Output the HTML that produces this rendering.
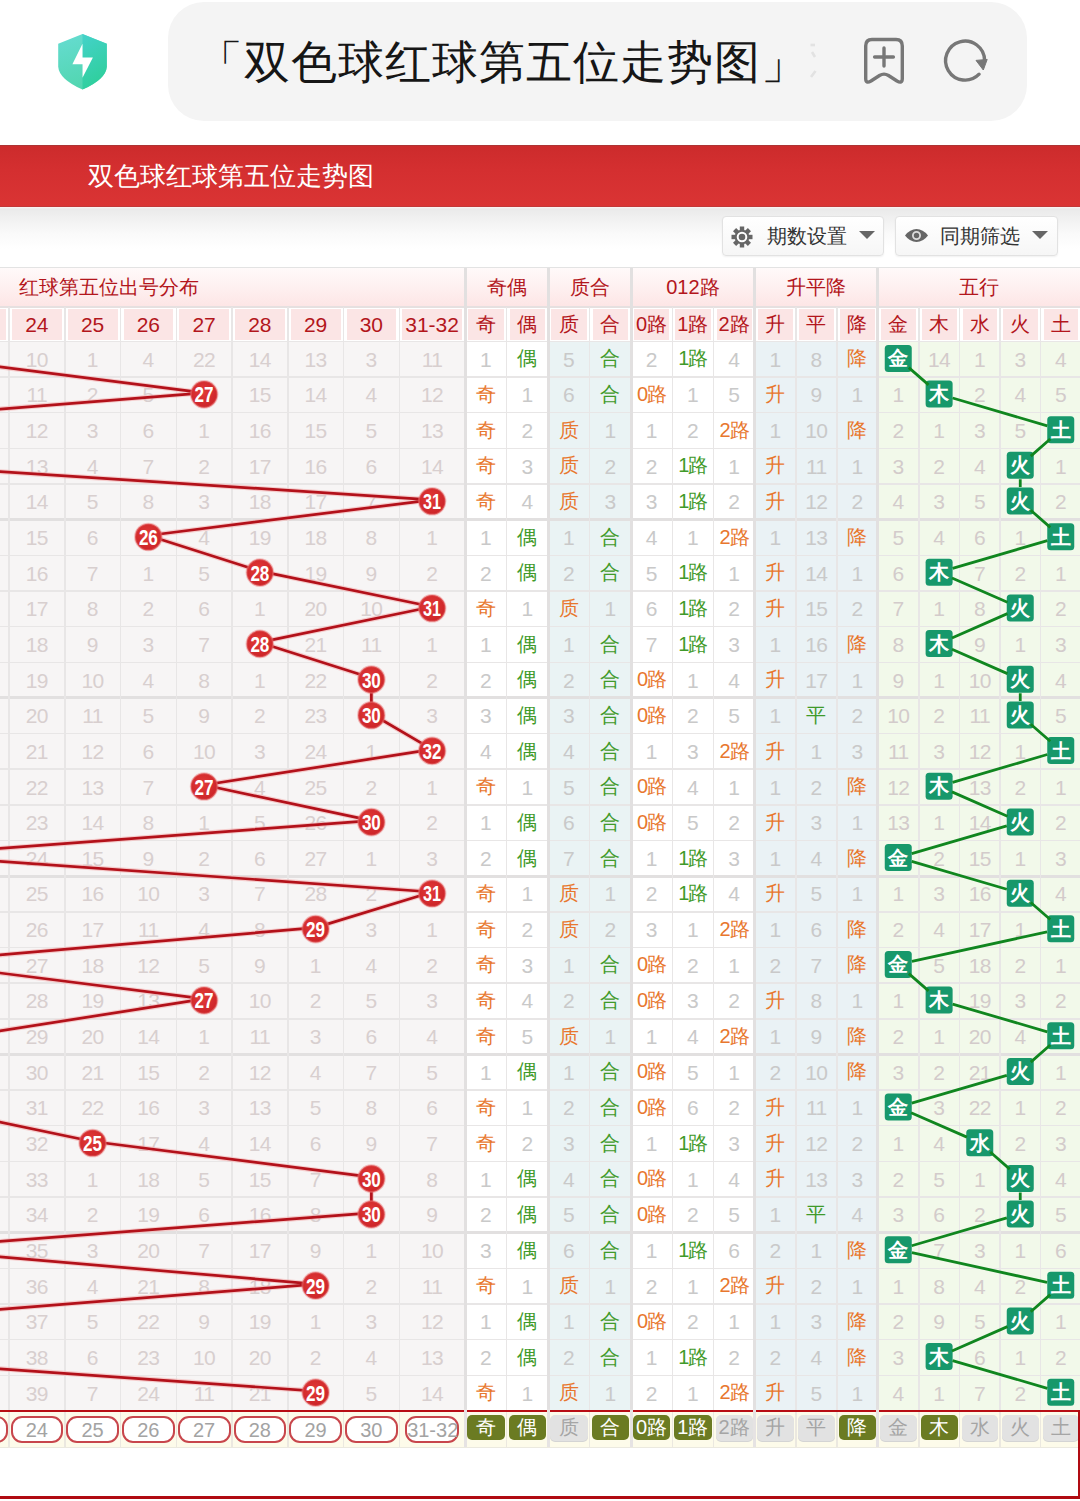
<!DOCTYPE html><html><head><meta charset="utf-8"><style>
*{margin:0;padding:0;box-sizing:border-box}
html,body{width:1080px;height:1501px;overflow:hidden;background:#fff;font-family:"Liberation Sans", sans-serif}
.a{position:absolute}
.t{position:absolute;text-align:center;white-space:nowrap}
</style></head><body>
<div class="a" style="left:168px;top:2px;width:859px;height:119px;border-radius:36px;background:#f4f4f4"></div>
<svg class="a" style="left:56px;top:32px" width="54" height="60" viewBox="0 0 54 60">
<defs><linearGradient id="sg" x1="0" y1="0" x2="0.3" y2="1"><stop offset="0" stop-color="#66dcd2"/><stop offset="1" stop-color="#52d6b0"/></linearGradient>
<linearGradient id="sg2" x1="0" y1="0" x2="0.3" y2="1"><stop offset="0" stop-color="#44d2ca"/><stop offset="1" stop-color="#2fcf9c"/></linearGradient></defs>
<path d="M26.5 2 L50.8 11.8 L50.8 34.7 Q50 47 26.5 57.6 Q3 47 2.2 34.7 L2.2 11.8 Z" fill="url(#sg)"/>
<path d="M26.5 2 L50.8 11.8 L50.8 34.7 Q50 47 26.5 57.6 Z" fill="url(#sg2)"/>
<path d="M26.5 11.75 L26.5 25.6 L36.9 25.6 L26.5 45.8 L26.5 32.2 L16.4 32.2 Z" fill="#fff"/>
</svg>
<div class="t" style="left:197px;top:34px;height:56px;line-height:56px;font-size:46px;font-weight:500;color:#161616;text-align:left;letter-spacing:1px">「双色球红球第五位走势图」</div>
<svg class="a" style="left:800px;top:35px" width="30" height="50" viewBox="0 0 30 50"><g stroke="#e2e2e2" stroke-width="2.6" fill="none"><path d="M10.5 10 L15 10"/><path d="M12 17 L15 22"/><path d="M15.5 36 L11 42"/></g></svg>
<svg class="a" style="left:860px;top:34px" width="48" height="52" viewBox="0 0 48 52">
<path d="M5.7 12 Q5.7 5.5 12 5.5 L36 5.5 Q42.3 5.5 42.3 12 L42.3 44.5 Q42.3 50 37 47 L28.5 41.5 Q24 38.7 19.5 41.5 L11 47 Q5.7 50 5.7 44.5 Z" fill="none" stroke="#777" stroke-width="3.4" stroke-linejoin="round"/>
<path d="M24 14 L24 32 M14.6 23 L33.4 23" stroke="#777" stroke-width="3.4" stroke-linecap="round"/>
</svg>
<svg class="a" style="left:940px;top:36px" width="52" height="50" viewBox="0 0 52 50">
<path d="M39.09 38.19 A19.5 19.5 0 1 1 44.6 24.4" fill="none" stroke="#777" stroke-width="3.4" stroke-linecap="round"/>
<path d="M36 24.4 L47.2 23.4 L43.3 34 Z" fill="#777" stroke="#777" stroke-width="1" stroke-linejoin="round"/>
</svg>
<div class="a" style="left:0;top:145px;width:1080px;height:62px;background:linear-gradient(#cc2b2c,#d42f30 40%,#da3434)"></div>
<div class="a" style="left:0;top:144.5px;width:1080px;height:1.5px;background:#ad3434"></div>
<div class="a" style="left:0;top:206px;width:1080px;height:1px;background:#c23838"></div>
<div class="t" style="left:88px;top:145px;height:62px;line-height:62px;font-size:26px;color:#fff;text-align:left">双色球红球第五位走势图</div>
<div class="a" style="left:0;top:207px;width:1080px;height:60px;background:linear-gradient(#fdf5f5 0,#eaeaea 2px,#f1f1f1 20%,#fafafa 45%,#fff 70%)"></div>
<div class="a" style="left:722px;top:216px;width:162px;height:40px;border:1px solid #e2e2e2;border-radius:4px;background:linear-gradient(#fff,#f6f6f6);box-shadow:0 1px 2px rgba(0,0,0,0.06)"></div>
<svg class="a" style="left:731px;top:226px" width="22" height="22" viewBox="-11 -11 22 22"><g fill="#666"><rect x="-2.2" y="-10.5" width="4.4" height="5" transform="rotate(0)"/><rect x="-2.2" y="-10.5" width="4.4" height="5" transform="rotate(45)"/><rect x="-2.2" y="-10.5" width="4.4" height="5" transform="rotate(90)"/><rect x="-2.2" y="-10.5" width="4.4" height="5" transform="rotate(135)"/><rect x="-2.2" y="-10.5" width="4.4" height="5" transform="rotate(180)"/><rect x="-2.2" y="-10.5" width="4.4" height="5" transform="rotate(225)"/><rect x="-2.2" y="-10.5" width="4.4" height="5" transform="rotate(270)"/><rect x="-2.2" y="-10.5" width="4.4" height="5" transform="rotate(315)"/><circle r="7.3"/></g><circle r="4.3" fill="none" stroke="#fff" stroke-width="2"/></svg>
<div class="t" style="left:767px;top:216px;height:40px;line-height:40px;font-size:20px;color:#333;text-align:left">期数设置</div>
<svg class="a" style="left:859px;top:230px" width="16" height="10" viewBox="0 0 16 10"><path d="M0 1 L16 1 L8 9 Z" fill="#666"/></svg>
<div class="a" style="left:895px;top:216px;width:163px;height:40px;border:1px solid #e2e2e2;border-radius:4px;background:linear-gradient(#fff,#f6f6f6);box-shadow:0 1px 2px rgba(0,0,0,0.06)"></div>
<svg class="a" style="left:905px;top:229px" width="23" height="13" viewBox="0 0 23 13"><path fill="#666" d="M0 6.5 Q5 0 11.5 0 Q18 0 23 6.5 Q18 13 11.5 13 Q5 13 0 6.5 Z"/><circle cx="11.5" cy="6.5" r="3.6" fill="none" stroke="#ddd" stroke-width="1.8"/></svg>
<div class="t" style="left:940px;top:216px;height:40px;line-height:40px;font-size:20px;color:#333;text-align:left">同期筛选</div>
<svg class="a" style="left:1032px;top:230px" width="16" height="10" viewBox="0 0 16 10"><path d="M0 1 L16 1 L8 9 Z" fill="#666"/></svg>
<div class="a" style="left:0;top:267px;width:1080px;height:1px;background:#e3e3e3"></div>
<div class="a" style="left:0;top:268px;width:1080px;height:38px;background:linear-gradient(#fffafa,#fde6e6)"></div>
<div class="a" style="left:0;top:306px;width:1080px;height:1.5px;background:#e6e0e0"></div>
<div class="a" style="left:0;top:307.5px;width:1080px;height:34px;background:#fff"></div>
<div class="t" style="left:19px;top:268px;height:38px;line-height:38px;font-size:20px;color:#b3161c;text-align:left">红球第五位出号分布</div>
<div class="t" style="left:465px;top:268px;width:83px;height:38px;line-height:38px;font-size:20px;color:#b3161c">奇偶</div>
<div class="t" style="left:548px;top:268px;width:83px;height:38px;line-height:38px;font-size:20px;color:#b3161c">质合</div>
<div class="t" style="left:631px;top:268px;width:123.75px;height:38px;line-height:38px;font-size:20px;color:#b3161c">012路</div>
<div class="t" style="left:754.75px;top:268px;width:123.0px;height:38px;line-height:38px;font-size:20px;color:#b3161c">升平降</div>
<div class="t" style="left:877.75px;top:268px;width:202.25px;height:38px;line-height:38px;font-size:20px;color:#b3161c">五行</div>
<div class="a" style="left:-43.75px;top:308.5px;width:49.75px;height:31px;background:#fbe5e5"></div>
<div class="a" style="left:12.0px;top:308.5px;width:49.75px;height:31px;background:#fbe5e5"></div>
<div class="t" style="left:9.0px;top:308.5px;width:55.75px;height:31px;line-height:31px;font-size:21px;color:#b3161c">24</div>
<div class="a" style="left:67.75px;top:308.5px;width:49.75px;height:31px;background:#fbe5e5"></div>
<div class="t" style="left:64.75px;top:308.5px;width:55.75px;height:31px;line-height:31px;font-size:21px;color:#b3161c">25</div>
<div class="a" style="left:123.5px;top:308.5px;width:49.75px;height:31px;background:#fbe5e5"></div>
<div class="t" style="left:120.5px;top:308.5px;width:55.75px;height:31px;line-height:31px;font-size:21px;color:#b3161c">26</div>
<div class="a" style="left:179.25px;top:308.5px;width:49.75px;height:31px;background:#fbe5e5"></div>
<div class="t" style="left:176.25px;top:308.5px;width:55.75px;height:31px;line-height:31px;font-size:21px;color:#b3161c">27</div>
<div class="a" style="left:235.0px;top:308.5px;width:49.75px;height:31px;background:#fbe5e5"></div>
<div class="t" style="left:232.0px;top:308.5px;width:55.75px;height:31px;line-height:31px;font-size:21px;color:#b3161c">28</div>
<div class="a" style="left:290.75px;top:308.5px;width:49.75px;height:31px;background:#fbe5e5"></div>
<div class="t" style="left:287.75px;top:308.5px;width:55.75px;height:31px;line-height:31px;font-size:21px;color:#b3161c">29</div>
<div class="a" style="left:346.5px;top:308.5px;width:49.75px;height:31px;background:#fbe5e5"></div>
<div class="t" style="left:343.5px;top:308.5px;width:55.75px;height:31px;line-height:31px;font-size:21px;color:#b3161c">30</div>
<div class="a" style="left:402.25px;top:308.5px;width:59.75px;height:31px;background:#fbe5e5"></div>
<div class="t" style="left:399.25px;top:308.5px;width:65.75px;height:31px;line-height:31px;font-size:21px;color:#b3161c">31-32</div>
<div class="a" style="left:468px;top:308.5px;width:35.5px;height:31px;background:#fbe5e5"></div>
<div class="t" style="left:465px;top:308.5px;width:41.5px;height:31px;line-height:31px;font-size:20px;color:#b3161c">奇</div>
<div class="a" style="left:509.5px;top:308.5px;width:35.5px;height:31px;background:#fbe5e5"></div>
<div class="t" style="left:506.5px;top:308.5px;width:41.5px;height:31px;line-height:31px;font-size:20px;color:#b3161c">偶</div>
<div class="a" style="left:551px;top:308.5px;width:35.5px;height:31px;background:#fbe5e5"></div>
<div class="t" style="left:548px;top:308.5px;width:41.5px;height:31px;line-height:31px;font-size:20px;color:#b3161c">质</div>
<div class="a" style="left:592.5px;top:308.5px;width:35.5px;height:31px;background:#fbe5e5"></div>
<div class="t" style="left:589.5px;top:308.5px;width:41.5px;height:31px;line-height:31px;font-size:20px;color:#b3161c">合</div>
<div class="a" style="left:634px;top:308.5px;width:35.25px;height:31px;background:#fbe5e5"></div>
<div class="t" style="left:631px;top:308.5px;width:41.25px;height:31px;line-height:31px;font-size:20px;color:#b3161c">0路</div>
<div class="a" style="left:675.25px;top:308.5px;width:35.25px;height:31px;background:#fbe5e5"></div>
<div class="t" style="left:672.25px;top:308.5px;width:41.25px;height:31px;line-height:31px;font-size:20px;color:#b3161c">1路</div>
<div class="a" style="left:716.5px;top:308.5px;width:35.25px;height:31px;background:#fbe5e5"></div>
<div class="t" style="left:713.5px;top:308.5px;width:41.25px;height:31px;line-height:31px;font-size:20px;color:#b3161c">2路</div>
<div class="a" style="left:757.75px;top:308.5px;width:35.0px;height:31px;background:#fbe5e5"></div>
<div class="t" style="left:754.75px;top:308.5px;width:41.0px;height:31px;line-height:31px;font-size:20px;color:#b3161c">升</div>
<div class="a" style="left:798.75px;top:308.5px;width:35.0px;height:31px;background:#fbe5e5"></div>
<div class="t" style="left:795.75px;top:308.5px;width:41.0px;height:31px;line-height:31px;font-size:20px;color:#b3161c">平</div>
<div class="a" style="left:839.75px;top:308.5px;width:35.0px;height:31px;background:#fbe5e5"></div>
<div class="t" style="left:836.75px;top:308.5px;width:41.0px;height:31px;line-height:31px;font-size:20px;color:#b3161c">降</div>
<div class="a" style="left:880.75px;top:308.5px;width:35.0px;height:31px;background:#fbe5e5"></div>
<div class="t" style="left:877.75px;top:308.5px;width:41.0px;height:31px;line-height:31px;font-size:20px;color:#b3161c">金</div>
<div class="a" style="left:921.75px;top:308.5px;width:34.75px;height:31px;background:#fbe5e5"></div>
<div class="t" style="left:918.75px;top:308.5px;width:40.75px;height:31px;line-height:31px;font-size:20px;color:#b3161c">木</div>
<div class="a" style="left:962.5px;top:308.5px;width:34.5px;height:31px;background:#fbe5e5"></div>
<div class="t" style="left:959.5px;top:308.5px;width:40.5px;height:31px;line-height:31px;font-size:20px;color:#b3161c">水</div>
<div class="a" style="left:1003px;top:308.5px;width:34.5px;height:31px;background:#fbe5e5"></div>
<div class="t" style="left:1000px;top:308.5px;width:40.5px;height:31px;line-height:31px;font-size:20px;color:#b3161c">火</div>
<div class="a" style="left:1043.5px;top:308.5px;width:34.5px;height:31px;background:#fbe5e5"></div>
<div class="t" style="left:1040.5px;top:308.5px;width:40.5px;height:31px;line-height:31px;font-size:20px;color:#b3161c">土</div>
<div class="a" style="left:0;top:341.4px;width:465px;height:1069.5px;background:#f7f5f5"></div>
<div class="a" style="left:465px;top:341.4px;width:83px;height:1069.5px;background:#ffffff"></div>
<div class="a" style="left:548px;top:341.4px;width:83px;height:1069.5px;background:#eaf3f4"></div>
<div class="a" style="left:631px;top:341.4px;width:123.75px;height:1069.5px;background:#ffffff"></div>
<div class="a" style="left:754.75px;top:341.4px;width:123.0px;height:1069.5px;background:#eaf2f5"></div>
<div class="a" style="left:877.75px;top:341.4px;width:202.25px;height:1069.5px;background:#f2f9ea"></div>
<div class="a" style="left:0;top:340.65px;width:1080px;height:1.5px;background:#e8e6e6"></div>
<div class="a" style="left:0;top:376.29999999999995px;width:1080px;height:1.5px;background:#e8e6e6"></div>
<div class="a" style="left:0;top:411.95px;width:1080px;height:1.5px;background:#e8e6e6"></div>
<div class="a" style="left:0;top:447.59999999999997px;width:1080px;height:1.5px;background:#e8e6e6"></div>
<div class="a" style="left:0;top:483.25px;width:1080px;height:1.5px;background:#e8e6e6"></div>
<div class="a" style="left:0;top:518.15px;width:1080px;height:3px;background:#e2e0e0"></div>
<div class="a" style="left:0;top:554.55px;width:1080px;height:1.5px;background:#e8e6e6"></div>
<div class="a" style="left:0;top:590.1999999999999px;width:1080px;height:1.5px;background:#e8e6e6"></div>
<div class="a" style="left:0;top:625.8499999999999px;width:1080px;height:1.5px;background:#e8e6e6"></div>
<div class="a" style="left:0;top:661.5px;width:1080px;height:1.5px;background:#e8e6e6"></div>
<div class="a" style="left:0;top:696.4px;width:1080px;height:3px;background:#e2e0e0"></div>
<div class="a" style="left:0;top:732.8px;width:1080px;height:1.5px;background:#e8e6e6"></div>
<div class="a" style="left:0;top:768.4499999999999px;width:1080px;height:1.5px;background:#e8e6e6"></div>
<div class="a" style="left:0;top:804.0999999999999px;width:1080px;height:1.5px;background:#e8e6e6"></div>
<div class="a" style="left:0;top:839.75px;width:1080px;height:1.5px;background:#e8e6e6"></div>
<div class="a" style="left:0;top:874.65px;width:1080px;height:3px;background:#e2e0e0"></div>
<div class="a" style="left:0;top:911.05px;width:1080px;height:1.5px;background:#e8e6e6"></div>
<div class="a" style="left:0;top:946.6999999999999px;width:1080px;height:1.5px;background:#e8e6e6"></div>
<div class="a" style="left:0;top:982.3499999999999px;width:1080px;height:1.5px;background:#e8e6e6"></div>
<div class="a" style="left:0;top:1018.0px;width:1080px;height:1.5px;background:#e8e6e6"></div>
<div class="a" style="left:0;top:1052.9px;width:1080px;height:3px;background:#e2e0e0"></div>
<div class="a" style="left:0;top:1089.3px;width:1080px;height:1.5px;background:#e8e6e6"></div>
<div class="a" style="left:0;top:1124.9499999999998px;width:1080px;height:1.5px;background:#e8e6e6"></div>
<div class="a" style="left:0;top:1160.6px;width:1080px;height:1.5px;background:#e8e6e6"></div>
<div class="a" style="left:0;top:1196.25px;width:1080px;height:1.5px;background:#e8e6e6"></div>
<div class="a" style="left:0;top:1231.15px;width:1080px;height:3px;background:#e2e0e0"></div>
<div class="a" style="left:0;top:1267.55px;width:1080px;height:1.5px;background:#e8e6e6"></div>
<div class="a" style="left:0;top:1303.1999999999998px;width:1080px;height:1.5px;background:#e8e6e6"></div>
<div class="a" style="left:0;top:1338.85px;width:1080px;height:1.5px;background:#e8e6e6"></div>
<div class="a" style="left:0;top:1374.5px;width:1080px;height:1.5px;background:#e8e6e6"></div>
<div class="a" style="left:8.25px;top:307px;width:1.5px;height:1103.9px;background:#e8e6e6"></div>
<div class="a" style="left:64.0px;top:307px;width:1.5px;height:1103.9px;background:#e8e6e6"></div>
<div class="a" style="left:119.75px;top:307px;width:1.5px;height:1103.9px;background:#e8e6e6"></div>
<div class="a" style="left:175.5px;top:307px;width:1.5px;height:1103.9px;background:#e8e6e6"></div>
<div class="a" style="left:231.25px;top:307px;width:1.5px;height:1103.9px;background:#e8e6e6"></div>
<div class="a" style="left:287.0px;top:307px;width:1.5px;height:1103.9px;background:#e8e6e6"></div>
<div class="a" style="left:342.75px;top:307px;width:1.5px;height:1103.9px;background:#e8e6e6"></div>
<div class="a" style="left:398.5px;top:307px;width:1.5px;height:1103.9px;background:#e8e6e6"></div>
<div class="a" style="left:463.5px;top:268px;width:3px;height:1142.9px;background:#e2e0e0"></div>
<div class="a" style="left:505.75px;top:307px;width:1.5px;height:1103.9px;background:#e8e6e6"></div>
<div class="a" style="left:546.5px;top:268px;width:3px;height:1142.9px;background:#e2e0e0"></div>
<div class="a" style="left:588.75px;top:307px;width:1.5px;height:1103.9px;background:#e8e6e6"></div>
<div class="a" style="left:629.5px;top:268px;width:3px;height:1142.9px;background:#e2e0e0"></div>
<div class="a" style="left:671.5px;top:307px;width:1.5px;height:1103.9px;background:#e8e6e6"></div>
<div class="a" style="left:712.75px;top:307px;width:1.5px;height:1103.9px;background:#e8e6e6"></div>
<div class="a" style="left:753.25px;top:268px;width:3px;height:1142.9px;background:#e2e0e0"></div>
<div class="a" style="left:795.0px;top:307px;width:1.5px;height:1103.9px;background:#e8e6e6"></div>
<div class="a" style="left:836.0px;top:307px;width:1.5px;height:1103.9px;background:#e8e6e6"></div>
<div class="a" style="left:876.25px;top:268px;width:3px;height:1142.9px;background:#e2e0e0"></div>
<div class="a" style="left:918.0px;top:307px;width:1.5px;height:1103.9px;background:#e8e6e6"></div>
<div class="a" style="left:958.75px;top:307px;width:1.5px;height:1103.9px;background:#e8e6e6"></div>
<div class="a" style="left:999.25px;top:307px;width:1.5px;height:1103.9px;background:#e8e6e6"></div>
<div class="a" style="left:1039.75px;top:307px;width:1.5px;height:1103.9px;background:#e8e6e6"></div>
<div class="t" style="left:9.0px;top:341.70px;width:55.75px;height:35.65px;line-height:35.65px;font-size:21px;color:#d8cfcf;letter-spacing:-0.6px;">10</div>
<div class="t" style="left:64.75px;top:341.70px;width:55.75px;height:35.65px;line-height:35.65px;font-size:21px;color:#d8cfcf;">1</div>
<div class="t" style="left:120.5px;top:341.70px;width:55.75px;height:35.65px;line-height:35.65px;font-size:21px;color:#d8cfcf;">4</div>
<div class="t" style="left:176.25px;top:341.70px;width:55.75px;height:35.65px;line-height:35.65px;font-size:21px;color:#d8cfcf;letter-spacing:-0.6px;">22</div>
<div class="t" style="left:232.0px;top:341.70px;width:55.75px;height:35.65px;line-height:35.65px;font-size:21px;color:#d8cfcf;letter-spacing:-0.6px;">14</div>
<div class="t" style="left:287.75px;top:341.70px;width:55.75px;height:35.65px;line-height:35.65px;font-size:21px;color:#d8cfcf;letter-spacing:-0.6px;">13</div>
<div class="t" style="left:343.5px;top:341.70px;width:55.75px;height:35.65px;line-height:35.65px;font-size:21px;color:#d8cfcf;">3</div>
<div class="t" style="left:399.25px;top:341.70px;width:65.75px;height:35.65px;line-height:35.65px;font-size:21px;color:#d8cfcf;letter-spacing:-0.6px;">11</div>
<div class="t" style="left:465px;top:341.70px;width:41.5px;height:35.65px;line-height:35.65px;font-size:21px;color:#c9c9c9;">1</div>
<div class="t" style="left:506.5px;top:341.40px;width:41.5px;height:35.65px;line-height:35.65px;font-size:20px;color:#3f9a2a;">偶</div>
<div class="t" style="left:548px;top:341.70px;width:41.5px;height:35.65px;line-height:35.65px;font-size:21px;color:#c9c9c9;">5</div>
<div class="t" style="left:589.5px;top:341.40px;width:41.5px;height:35.65px;line-height:35.65px;font-size:20px;color:#3f9a2a;">合</div>
<div class="t" style="left:631px;top:341.70px;width:41.25px;height:35.65px;line-height:35.65px;font-size:21px;color:#c9c9c9;">2</div>
<div class="t" style="left:672.25px;top:341.40px;width:41.25px;height:35.65px;line-height:35.65px;font-size:20px;color:#3f9a2a;letter-spacing:-1px;">1路</div>
<div class="t" style="left:713.5px;top:341.70px;width:41.25px;height:35.65px;line-height:35.65px;font-size:21px;color:#c9c9c9;">4</div>
<div class="t" style="left:754.75px;top:341.70px;width:41.0px;height:35.65px;line-height:35.65px;font-size:21px;color:#c9c9c9;">1</div>
<div class="t" style="left:795.75px;top:341.70px;width:41.0px;height:35.65px;line-height:35.65px;font-size:21px;color:#c9c9c9;">8</div>
<div class="t" style="left:836.75px;top:341.40px;width:41.0px;height:35.65px;line-height:35.65px;font-size:20px;color:#e8772e;">降</div>
<div class="t" style="left:918.75px;top:341.70px;width:40.75px;height:35.65px;line-height:35.65px;font-size:21px;color:#d3cbcb;letter-spacing:-0.6px;">14</div>
<div class="t" style="left:959.5px;top:341.70px;width:40.5px;height:35.65px;line-height:35.65px;font-size:21px;color:#d3cbcb;">1</div>
<div class="t" style="left:1000px;top:341.70px;width:40.5px;height:35.65px;line-height:35.65px;font-size:21px;color:#d3cbcb;">3</div>
<div class="t" style="left:1040.5px;top:341.70px;width:40.5px;height:35.65px;line-height:35.65px;font-size:21px;color:#d3cbcb;">4</div>
<div class="t" style="left:9.0px;top:377.35px;width:55.75px;height:35.65px;line-height:35.65px;font-size:21px;color:#d8cfcf;letter-spacing:-0.6px;">11</div>
<div class="t" style="left:64.75px;top:377.35px;width:55.75px;height:35.65px;line-height:35.65px;font-size:21px;color:#d8cfcf;">2</div>
<div class="t" style="left:120.5px;top:377.35px;width:55.75px;height:35.65px;line-height:35.65px;font-size:21px;color:#d8cfcf;">5</div>
<div class="t" style="left:232.0px;top:377.35px;width:55.75px;height:35.65px;line-height:35.65px;font-size:21px;color:#d8cfcf;letter-spacing:-0.6px;">15</div>
<div class="t" style="left:287.75px;top:377.35px;width:55.75px;height:35.65px;line-height:35.65px;font-size:21px;color:#d8cfcf;letter-spacing:-0.6px;">14</div>
<div class="t" style="left:343.5px;top:377.35px;width:55.75px;height:35.65px;line-height:35.65px;font-size:21px;color:#d8cfcf;">4</div>
<div class="t" style="left:399.25px;top:377.35px;width:65.75px;height:35.65px;line-height:35.65px;font-size:21px;color:#d8cfcf;letter-spacing:-0.6px;">12</div>
<div class="t" style="left:465px;top:377.05px;width:41.5px;height:35.65px;line-height:35.65px;font-size:20px;color:#e8772e;">奇</div>
<div class="t" style="left:506.5px;top:377.35px;width:41.5px;height:35.65px;line-height:35.65px;font-size:21px;color:#c9c9c9;">1</div>
<div class="t" style="left:548px;top:377.35px;width:41.5px;height:35.65px;line-height:35.65px;font-size:21px;color:#c9c9c9;">6</div>
<div class="t" style="left:589.5px;top:377.05px;width:41.5px;height:35.65px;line-height:35.65px;font-size:20px;color:#3f9a2a;">合</div>
<div class="t" style="left:631px;top:377.05px;width:41.25px;height:35.65px;line-height:35.65px;font-size:20px;color:#e8772e;letter-spacing:-1px;">0路</div>
<div class="t" style="left:672.25px;top:377.35px;width:41.25px;height:35.65px;line-height:35.65px;font-size:21px;color:#c9c9c9;">1</div>
<div class="t" style="left:713.5px;top:377.35px;width:41.25px;height:35.65px;line-height:35.65px;font-size:21px;color:#c9c9c9;">5</div>
<div class="t" style="left:754.75px;top:377.05px;width:41.0px;height:35.65px;line-height:35.65px;font-size:20px;color:#e8772e;">升</div>
<div class="t" style="left:795.75px;top:377.35px;width:41.0px;height:35.65px;line-height:35.65px;font-size:21px;color:#c9c9c9;">9</div>
<div class="t" style="left:836.75px;top:377.35px;width:41.0px;height:35.65px;line-height:35.65px;font-size:21px;color:#c9c9c9;">1</div>
<div class="t" style="left:877.75px;top:377.35px;width:41.0px;height:35.65px;line-height:35.65px;font-size:21px;color:#d3cbcb;">1</div>
<div class="t" style="left:959.5px;top:377.35px;width:40.5px;height:35.65px;line-height:35.65px;font-size:21px;color:#d3cbcb;">2</div>
<div class="t" style="left:1000px;top:377.35px;width:40.5px;height:35.65px;line-height:35.65px;font-size:21px;color:#d3cbcb;">4</div>
<div class="t" style="left:1040.5px;top:377.35px;width:40.5px;height:35.65px;line-height:35.65px;font-size:21px;color:#d3cbcb;">5</div>
<div class="t" style="left:9.0px;top:413.00px;width:55.75px;height:35.65px;line-height:35.65px;font-size:21px;color:#d8cfcf;letter-spacing:-0.6px;">12</div>
<div class="t" style="left:64.75px;top:413.00px;width:55.75px;height:35.65px;line-height:35.65px;font-size:21px;color:#d8cfcf;">3</div>
<div class="t" style="left:120.5px;top:413.00px;width:55.75px;height:35.65px;line-height:35.65px;font-size:21px;color:#d8cfcf;">6</div>
<div class="t" style="left:176.25px;top:413.00px;width:55.75px;height:35.65px;line-height:35.65px;font-size:21px;color:#d8cfcf;">1</div>
<div class="t" style="left:232.0px;top:413.00px;width:55.75px;height:35.65px;line-height:35.65px;font-size:21px;color:#d8cfcf;letter-spacing:-0.6px;">16</div>
<div class="t" style="left:287.75px;top:413.00px;width:55.75px;height:35.65px;line-height:35.65px;font-size:21px;color:#d8cfcf;letter-spacing:-0.6px;">15</div>
<div class="t" style="left:343.5px;top:413.00px;width:55.75px;height:35.65px;line-height:35.65px;font-size:21px;color:#d8cfcf;">5</div>
<div class="t" style="left:399.25px;top:413.00px;width:65.75px;height:35.65px;line-height:35.65px;font-size:21px;color:#d8cfcf;letter-spacing:-0.6px;">13</div>
<div class="t" style="left:465px;top:412.70px;width:41.5px;height:35.65px;line-height:35.65px;font-size:20px;color:#e8772e;">奇</div>
<div class="t" style="left:506.5px;top:413.00px;width:41.5px;height:35.65px;line-height:35.65px;font-size:21px;color:#c9c9c9;">2</div>
<div class="t" style="left:548px;top:412.70px;width:41.5px;height:35.65px;line-height:35.65px;font-size:20px;color:#e8772e;">质</div>
<div class="t" style="left:589.5px;top:413.00px;width:41.5px;height:35.65px;line-height:35.65px;font-size:21px;color:#c9c9c9;">1</div>
<div class="t" style="left:631px;top:413.00px;width:41.25px;height:35.65px;line-height:35.65px;font-size:21px;color:#c9c9c9;">1</div>
<div class="t" style="left:672.25px;top:413.00px;width:41.25px;height:35.65px;line-height:35.65px;font-size:21px;color:#c9c9c9;">2</div>
<div class="t" style="left:713.5px;top:412.70px;width:41.25px;height:35.65px;line-height:35.65px;font-size:20px;color:#e8772e;letter-spacing:-1px;">2路</div>
<div class="t" style="left:754.75px;top:413.00px;width:41.0px;height:35.65px;line-height:35.65px;font-size:21px;color:#c9c9c9;">1</div>
<div class="t" style="left:795.75px;top:413.00px;width:41.0px;height:35.65px;line-height:35.65px;font-size:21px;color:#c9c9c9;letter-spacing:-0.6px;">10</div>
<div class="t" style="left:836.75px;top:412.70px;width:41.0px;height:35.65px;line-height:35.65px;font-size:20px;color:#e8772e;">降</div>
<div class="t" style="left:877.75px;top:413.00px;width:41.0px;height:35.65px;line-height:35.65px;font-size:21px;color:#d3cbcb;">2</div>
<div class="t" style="left:918.75px;top:413.00px;width:40.75px;height:35.65px;line-height:35.65px;font-size:21px;color:#d3cbcb;">1</div>
<div class="t" style="left:959.5px;top:413.00px;width:40.5px;height:35.65px;line-height:35.65px;font-size:21px;color:#d3cbcb;">3</div>
<div class="t" style="left:1000px;top:413.00px;width:40.5px;height:35.65px;line-height:35.65px;font-size:21px;color:#d3cbcb;">5</div>
<div class="t" style="left:9.0px;top:448.65px;width:55.75px;height:35.65px;line-height:35.65px;font-size:21px;color:#d8cfcf;letter-spacing:-0.6px;">13</div>
<div class="t" style="left:64.75px;top:448.65px;width:55.75px;height:35.65px;line-height:35.65px;font-size:21px;color:#d8cfcf;">4</div>
<div class="t" style="left:120.5px;top:448.65px;width:55.75px;height:35.65px;line-height:35.65px;font-size:21px;color:#d8cfcf;">7</div>
<div class="t" style="left:176.25px;top:448.65px;width:55.75px;height:35.65px;line-height:35.65px;font-size:21px;color:#d8cfcf;">2</div>
<div class="t" style="left:232.0px;top:448.65px;width:55.75px;height:35.65px;line-height:35.65px;font-size:21px;color:#d8cfcf;letter-spacing:-0.6px;">17</div>
<div class="t" style="left:287.75px;top:448.65px;width:55.75px;height:35.65px;line-height:35.65px;font-size:21px;color:#d8cfcf;letter-spacing:-0.6px;">16</div>
<div class="t" style="left:343.5px;top:448.65px;width:55.75px;height:35.65px;line-height:35.65px;font-size:21px;color:#d8cfcf;">6</div>
<div class="t" style="left:399.25px;top:448.65px;width:65.75px;height:35.65px;line-height:35.65px;font-size:21px;color:#d8cfcf;letter-spacing:-0.6px;">14</div>
<div class="t" style="left:465px;top:448.35px;width:41.5px;height:35.65px;line-height:35.65px;font-size:20px;color:#e8772e;">奇</div>
<div class="t" style="left:506.5px;top:448.65px;width:41.5px;height:35.65px;line-height:35.65px;font-size:21px;color:#c9c9c9;">3</div>
<div class="t" style="left:548px;top:448.35px;width:41.5px;height:35.65px;line-height:35.65px;font-size:20px;color:#e8772e;">质</div>
<div class="t" style="left:589.5px;top:448.65px;width:41.5px;height:35.65px;line-height:35.65px;font-size:21px;color:#c9c9c9;">2</div>
<div class="t" style="left:631px;top:448.65px;width:41.25px;height:35.65px;line-height:35.65px;font-size:21px;color:#c9c9c9;">2</div>
<div class="t" style="left:672.25px;top:448.35px;width:41.25px;height:35.65px;line-height:35.65px;font-size:20px;color:#3f9a2a;letter-spacing:-1px;">1路</div>
<div class="t" style="left:713.5px;top:448.65px;width:41.25px;height:35.65px;line-height:35.65px;font-size:21px;color:#c9c9c9;">1</div>
<div class="t" style="left:754.75px;top:448.35px;width:41.0px;height:35.65px;line-height:35.65px;font-size:20px;color:#e8772e;">升</div>
<div class="t" style="left:795.75px;top:448.65px;width:41.0px;height:35.65px;line-height:35.65px;font-size:21px;color:#c9c9c9;letter-spacing:-0.6px;">11</div>
<div class="t" style="left:836.75px;top:448.65px;width:41.0px;height:35.65px;line-height:35.65px;font-size:21px;color:#c9c9c9;">1</div>
<div class="t" style="left:877.75px;top:448.65px;width:41.0px;height:35.65px;line-height:35.65px;font-size:21px;color:#d3cbcb;">3</div>
<div class="t" style="left:918.75px;top:448.65px;width:40.75px;height:35.65px;line-height:35.65px;font-size:21px;color:#d3cbcb;">2</div>
<div class="t" style="left:959.5px;top:448.65px;width:40.5px;height:35.65px;line-height:35.65px;font-size:21px;color:#d3cbcb;">4</div>
<div class="t" style="left:1040.5px;top:448.65px;width:40.5px;height:35.65px;line-height:35.65px;font-size:21px;color:#d3cbcb;">1</div>
<div class="t" style="left:9.0px;top:484.30px;width:55.75px;height:35.65px;line-height:35.65px;font-size:21px;color:#d8cfcf;letter-spacing:-0.6px;">14</div>
<div class="t" style="left:64.75px;top:484.30px;width:55.75px;height:35.65px;line-height:35.65px;font-size:21px;color:#d8cfcf;">5</div>
<div class="t" style="left:120.5px;top:484.30px;width:55.75px;height:35.65px;line-height:35.65px;font-size:21px;color:#d8cfcf;">8</div>
<div class="t" style="left:176.25px;top:484.30px;width:55.75px;height:35.65px;line-height:35.65px;font-size:21px;color:#d8cfcf;">3</div>
<div class="t" style="left:232.0px;top:484.30px;width:55.75px;height:35.65px;line-height:35.65px;font-size:21px;color:#d8cfcf;letter-spacing:-0.6px;">18</div>
<div class="t" style="left:287.75px;top:484.30px;width:55.75px;height:35.65px;line-height:35.65px;font-size:21px;color:#d8cfcf;letter-spacing:-0.6px;">17</div>
<div class="t" style="left:343.5px;top:484.30px;width:55.75px;height:35.65px;line-height:35.65px;font-size:21px;color:#d8cfcf;">7</div>
<div class="t" style="left:465px;top:484.00px;width:41.5px;height:35.65px;line-height:35.65px;font-size:20px;color:#e8772e;">奇</div>
<div class="t" style="left:506.5px;top:484.30px;width:41.5px;height:35.65px;line-height:35.65px;font-size:21px;color:#c9c9c9;">4</div>
<div class="t" style="left:548px;top:484.00px;width:41.5px;height:35.65px;line-height:35.65px;font-size:20px;color:#e8772e;">质</div>
<div class="t" style="left:589.5px;top:484.30px;width:41.5px;height:35.65px;line-height:35.65px;font-size:21px;color:#c9c9c9;">3</div>
<div class="t" style="left:631px;top:484.30px;width:41.25px;height:35.65px;line-height:35.65px;font-size:21px;color:#c9c9c9;">3</div>
<div class="t" style="left:672.25px;top:484.00px;width:41.25px;height:35.65px;line-height:35.65px;font-size:20px;color:#3f9a2a;letter-spacing:-1px;">1路</div>
<div class="t" style="left:713.5px;top:484.30px;width:41.25px;height:35.65px;line-height:35.65px;font-size:21px;color:#c9c9c9;">2</div>
<div class="t" style="left:754.75px;top:484.00px;width:41.0px;height:35.65px;line-height:35.65px;font-size:20px;color:#e8772e;">升</div>
<div class="t" style="left:795.75px;top:484.30px;width:41.0px;height:35.65px;line-height:35.65px;font-size:21px;color:#c9c9c9;letter-spacing:-0.6px;">12</div>
<div class="t" style="left:836.75px;top:484.30px;width:41.0px;height:35.65px;line-height:35.65px;font-size:21px;color:#c9c9c9;">2</div>
<div class="t" style="left:877.75px;top:484.30px;width:41.0px;height:35.65px;line-height:35.65px;font-size:21px;color:#d3cbcb;">4</div>
<div class="t" style="left:918.75px;top:484.30px;width:40.75px;height:35.65px;line-height:35.65px;font-size:21px;color:#d3cbcb;">3</div>
<div class="t" style="left:959.5px;top:484.30px;width:40.5px;height:35.65px;line-height:35.65px;font-size:21px;color:#d3cbcb;">5</div>
<div class="t" style="left:1040.5px;top:484.30px;width:40.5px;height:35.65px;line-height:35.65px;font-size:21px;color:#d3cbcb;">2</div>
<div class="t" style="left:9.0px;top:519.95px;width:55.75px;height:35.65px;line-height:35.65px;font-size:21px;color:#d8cfcf;letter-spacing:-0.6px;">15</div>
<div class="t" style="left:64.75px;top:519.95px;width:55.75px;height:35.65px;line-height:35.65px;font-size:21px;color:#d8cfcf;">6</div>
<div class="t" style="left:176.25px;top:519.95px;width:55.75px;height:35.65px;line-height:35.65px;font-size:21px;color:#d8cfcf;">4</div>
<div class="t" style="left:232.0px;top:519.95px;width:55.75px;height:35.65px;line-height:35.65px;font-size:21px;color:#d8cfcf;letter-spacing:-0.6px;">19</div>
<div class="t" style="left:287.75px;top:519.95px;width:55.75px;height:35.65px;line-height:35.65px;font-size:21px;color:#d8cfcf;letter-spacing:-0.6px;">18</div>
<div class="t" style="left:343.5px;top:519.95px;width:55.75px;height:35.65px;line-height:35.65px;font-size:21px;color:#d8cfcf;">8</div>
<div class="t" style="left:399.25px;top:519.95px;width:65.75px;height:35.65px;line-height:35.65px;font-size:21px;color:#d8cfcf;">1</div>
<div class="t" style="left:465px;top:519.95px;width:41.5px;height:35.65px;line-height:35.65px;font-size:21px;color:#c9c9c9;">1</div>
<div class="t" style="left:506.5px;top:519.65px;width:41.5px;height:35.65px;line-height:35.65px;font-size:20px;color:#3f9a2a;">偶</div>
<div class="t" style="left:548px;top:519.95px;width:41.5px;height:35.65px;line-height:35.65px;font-size:21px;color:#c9c9c9;">1</div>
<div class="t" style="left:589.5px;top:519.65px;width:41.5px;height:35.65px;line-height:35.65px;font-size:20px;color:#3f9a2a;">合</div>
<div class="t" style="left:631px;top:519.95px;width:41.25px;height:35.65px;line-height:35.65px;font-size:21px;color:#c9c9c9;">4</div>
<div class="t" style="left:672.25px;top:519.95px;width:41.25px;height:35.65px;line-height:35.65px;font-size:21px;color:#c9c9c9;">1</div>
<div class="t" style="left:713.5px;top:519.65px;width:41.25px;height:35.65px;line-height:35.65px;font-size:20px;color:#e8772e;letter-spacing:-1px;">2路</div>
<div class="t" style="left:754.75px;top:519.95px;width:41.0px;height:35.65px;line-height:35.65px;font-size:21px;color:#c9c9c9;">1</div>
<div class="t" style="left:795.75px;top:519.95px;width:41.0px;height:35.65px;line-height:35.65px;font-size:21px;color:#c9c9c9;letter-spacing:-0.6px;">13</div>
<div class="t" style="left:836.75px;top:519.65px;width:41.0px;height:35.65px;line-height:35.65px;font-size:20px;color:#e8772e;">降</div>
<div class="t" style="left:877.75px;top:519.95px;width:41.0px;height:35.65px;line-height:35.65px;font-size:21px;color:#d3cbcb;">5</div>
<div class="t" style="left:918.75px;top:519.95px;width:40.75px;height:35.65px;line-height:35.65px;font-size:21px;color:#d3cbcb;">4</div>
<div class="t" style="left:959.5px;top:519.95px;width:40.5px;height:35.65px;line-height:35.65px;font-size:21px;color:#d3cbcb;">6</div>
<div class="t" style="left:1000px;top:519.95px;width:40.5px;height:35.65px;line-height:35.65px;font-size:21px;color:#d3cbcb;">1</div>
<div class="t" style="left:9.0px;top:555.60px;width:55.75px;height:35.65px;line-height:35.65px;font-size:21px;color:#d8cfcf;letter-spacing:-0.6px;">16</div>
<div class="t" style="left:64.75px;top:555.60px;width:55.75px;height:35.65px;line-height:35.65px;font-size:21px;color:#d8cfcf;">7</div>
<div class="t" style="left:120.5px;top:555.60px;width:55.75px;height:35.65px;line-height:35.65px;font-size:21px;color:#d8cfcf;">1</div>
<div class="t" style="left:176.25px;top:555.60px;width:55.75px;height:35.65px;line-height:35.65px;font-size:21px;color:#d8cfcf;">5</div>
<div class="t" style="left:287.75px;top:555.60px;width:55.75px;height:35.65px;line-height:35.65px;font-size:21px;color:#d8cfcf;letter-spacing:-0.6px;">19</div>
<div class="t" style="left:343.5px;top:555.60px;width:55.75px;height:35.65px;line-height:35.65px;font-size:21px;color:#d8cfcf;">9</div>
<div class="t" style="left:399.25px;top:555.60px;width:65.75px;height:35.65px;line-height:35.65px;font-size:21px;color:#d8cfcf;">2</div>
<div class="t" style="left:465px;top:555.60px;width:41.5px;height:35.65px;line-height:35.65px;font-size:21px;color:#c9c9c9;">2</div>
<div class="t" style="left:506.5px;top:555.30px;width:41.5px;height:35.65px;line-height:35.65px;font-size:20px;color:#3f9a2a;">偶</div>
<div class="t" style="left:548px;top:555.60px;width:41.5px;height:35.65px;line-height:35.65px;font-size:21px;color:#c9c9c9;">2</div>
<div class="t" style="left:589.5px;top:555.30px;width:41.5px;height:35.65px;line-height:35.65px;font-size:20px;color:#3f9a2a;">合</div>
<div class="t" style="left:631px;top:555.60px;width:41.25px;height:35.65px;line-height:35.65px;font-size:21px;color:#c9c9c9;">5</div>
<div class="t" style="left:672.25px;top:555.30px;width:41.25px;height:35.65px;line-height:35.65px;font-size:20px;color:#3f9a2a;letter-spacing:-1px;">1路</div>
<div class="t" style="left:713.5px;top:555.60px;width:41.25px;height:35.65px;line-height:35.65px;font-size:21px;color:#c9c9c9;">1</div>
<div class="t" style="left:754.75px;top:555.30px;width:41.0px;height:35.65px;line-height:35.65px;font-size:20px;color:#e8772e;">升</div>
<div class="t" style="left:795.75px;top:555.60px;width:41.0px;height:35.65px;line-height:35.65px;font-size:21px;color:#c9c9c9;letter-spacing:-0.6px;">14</div>
<div class="t" style="left:836.75px;top:555.60px;width:41.0px;height:35.65px;line-height:35.65px;font-size:21px;color:#c9c9c9;">1</div>
<div class="t" style="left:877.75px;top:555.60px;width:41.0px;height:35.65px;line-height:35.65px;font-size:21px;color:#d3cbcb;">6</div>
<div class="t" style="left:959.5px;top:555.60px;width:40.5px;height:35.65px;line-height:35.65px;font-size:21px;color:#d3cbcb;">7</div>
<div class="t" style="left:1000px;top:555.60px;width:40.5px;height:35.65px;line-height:35.65px;font-size:21px;color:#d3cbcb;">2</div>
<div class="t" style="left:1040.5px;top:555.60px;width:40.5px;height:35.65px;line-height:35.65px;font-size:21px;color:#d3cbcb;">1</div>
<div class="t" style="left:9.0px;top:591.25px;width:55.75px;height:35.65px;line-height:35.65px;font-size:21px;color:#d8cfcf;letter-spacing:-0.6px;">17</div>
<div class="t" style="left:64.75px;top:591.25px;width:55.75px;height:35.65px;line-height:35.65px;font-size:21px;color:#d8cfcf;">8</div>
<div class="t" style="left:120.5px;top:591.25px;width:55.75px;height:35.65px;line-height:35.65px;font-size:21px;color:#d8cfcf;">2</div>
<div class="t" style="left:176.25px;top:591.25px;width:55.75px;height:35.65px;line-height:35.65px;font-size:21px;color:#d8cfcf;">6</div>
<div class="t" style="left:232.0px;top:591.25px;width:55.75px;height:35.65px;line-height:35.65px;font-size:21px;color:#d8cfcf;">1</div>
<div class="t" style="left:287.75px;top:591.25px;width:55.75px;height:35.65px;line-height:35.65px;font-size:21px;color:#d8cfcf;letter-spacing:-0.6px;">20</div>
<div class="t" style="left:343.5px;top:591.25px;width:55.75px;height:35.65px;line-height:35.65px;font-size:21px;color:#d8cfcf;letter-spacing:-0.6px;">10</div>
<div class="t" style="left:465px;top:590.95px;width:41.5px;height:35.65px;line-height:35.65px;font-size:20px;color:#e8772e;">奇</div>
<div class="t" style="left:506.5px;top:591.25px;width:41.5px;height:35.65px;line-height:35.65px;font-size:21px;color:#c9c9c9;">1</div>
<div class="t" style="left:548px;top:590.95px;width:41.5px;height:35.65px;line-height:35.65px;font-size:20px;color:#e8772e;">质</div>
<div class="t" style="left:589.5px;top:591.25px;width:41.5px;height:35.65px;line-height:35.65px;font-size:21px;color:#c9c9c9;">1</div>
<div class="t" style="left:631px;top:591.25px;width:41.25px;height:35.65px;line-height:35.65px;font-size:21px;color:#c9c9c9;">6</div>
<div class="t" style="left:672.25px;top:590.95px;width:41.25px;height:35.65px;line-height:35.65px;font-size:20px;color:#3f9a2a;letter-spacing:-1px;">1路</div>
<div class="t" style="left:713.5px;top:591.25px;width:41.25px;height:35.65px;line-height:35.65px;font-size:21px;color:#c9c9c9;">2</div>
<div class="t" style="left:754.75px;top:590.95px;width:41.0px;height:35.65px;line-height:35.65px;font-size:20px;color:#e8772e;">升</div>
<div class="t" style="left:795.75px;top:591.25px;width:41.0px;height:35.65px;line-height:35.65px;font-size:21px;color:#c9c9c9;letter-spacing:-0.6px;">15</div>
<div class="t" style="left:836.75px;top:591.25px;width:41.0px;height:35.65px;line-height:35.65px;font-size:21px;color:#c9c9c9;">2</div>
<div class="t" style="left:877.75px;top:591.25px;width:41.0px;height:35.65px;line-height:35.65px;font-size:21px;color:#d3cbcb;">7</div>
<div class="t" style="left:918.75px;top:591.25px;width:40.75px;height:35.65px;line-height:35.65px;font-size:21px;color:#d3cbcb;">1</div>
<div class="t" style="left:959.5px;top:591.25px;width:40.5px;height:35.65px;line-height:35.65px;font-size:21px;color:#d3cbcb;">8</div>
<div class="t" style="left:1040.5px;top:591.25px;width:40.5px;height:35.65px;line-height:35.65px;font-size:21px;color:#d3cbcb;">2</div>
<div class="t" style="left:9.0px;top:626.90px;width:55.75px;height:35.65px;line-height:35.65px;font-size:21px;color:#d8cfcf;letter-spacing:-0.6px;">18</div>
<div class="t" style="left:64.75px;top:626.90px;width:55.75px;height:35.65px;line-height:35.65px;font-size:21px;color:#d8cfcf;">9</div>
<div class="t" style="left:120.5px;top:626.90px;width:55.75px;height:35.65px;line-height:35.65px;font-size:21px;color:#d8cfcf;">3</div>
<div class="t" style="left:176.25px;top:626.90px;width:55.75px;height:35.65px;line-height:35.65px;font-size:21px;color:#d8cfcf;">7</div>
<div class="t" style="left:287.75px;top:626.90px;width:55.75px;height:35.65px;line-height:35.65px;font-size:21px;color:#d8cfcf;letter-spacing:-0.6px;">21</div>
<div class="t" style="left:343.5px;top:626.90px;width:55.75px;height:35.65px;line-height:35.65px;font-size:21px;color:#d8cfcf;letter-spacing:-0.6px;">11</div>
<div class="t" style="left:399.25px;top:626.90px;width:65.75px;height:35.65px;line-height:35.65px;font-size:21px;color:#d8cfcf;">1</div>
<div class="t" style="left:465px;top:626.90px;width:41.5px;height:35.65px;line-height:35.65px;font-size:21px;color:#c9c9c9;">1</div>
<div class="t" style="left:506.5px;top:626.60px;width:41.5px;height:35.65px;line-height:35.65px;font-size:20px;color:#3f9a2a;">偶</div>
<div class="t" style="left:548px;top:626.90px;width:41.5px;height:35.65px;line-height:35.65px;font-size:21px;color:#c9c9c9;">1</div>
<div class="t" style="left:589.5px;top:626.60px;width:41.5px;height:35.65px;line-height:35.65px;font-size:20px;color:#3f9a2a;">合</div>
<div class="t" style="left:631px;top:626.90px;width:41.25px;height:35.65px;line-height:35.65px;font-size:21px;color:#c9c9c9;">7</div>
<div class="t" style="left:672.25px;top:626.60px;width:41.25px;height:35.65px;line-height:35.65px;font-size:20px;color:#3f9a2a;letter-spacing:-1px;">1路</div>
<div class="t" style="left:713.5px;top:626.90px;width:41.25px;height:35.65px;line-height:35.65px;font-size:21px;color:#c9c9c9;">3</div>
<div class="t" style="left:754.75px;top:626.90px;width:41.0px;height:35.65px;line-height:35.65px;font-size:21px;color:#c9c9c9;">1</div>
<div class="t" style="left:795.75px;top:626.90px;width:41.0px;height:35.65px;line-height:35.65px;font-size:21px;color:#c9c9c9;letter-spacing:-0.6px;">16</div>
<div class="t" style="left:836.75px;top:626.60px;width:41.0px;height:35.65px;line-height:35.65px;font-size:20px;color:#e8772e;">降</div>
<div class="t" style="left:877.75px;top:626.90px;width:41.0px;height:35.65px;line-height:35.65px;font-size:21px;color:#d3cbcb;">8</div>
<div class="t" style="left:959.5px;top:626.90px;width:40.5px;height:35.65px;line-height:35.65px;font-size:21px;color:#d3cbcb;">9</div>
<div class="t" style="left:1000px;top:626.90px;width:40.5px;height:35.65px;line-height:35.65px;font-size:21px;color:#d3cbcb;">1</div>
<div class="t" style="left:1040.5px;top:626.90px;width:40.5px;height:35.65px;line-height:35.65px;font-size:21px;color:#d3cbcb;">3</div>
<div class="t" style="left:9.0px;top:662.55px;width:55.75px;height:35.65px;line-height:35.65px;font-size:21px;color:#d8cfcf;letter-spacing:-0.6px;">19</div>
<div class="t" style="left:64.75px;top:662.55px;width:55.75px;height:35.65px;line-height:35.65px;font-size:21px;color:#d8cfcf;letter-spacing:-0.6px;">10</div>
<div class="t" style="left:120.5px;top:662.55px;width:55.75px;height:35.65px;line-height:35.65px;font-size:21px;color:#d8cfcf;">4</div>
<div class="t" style="left:176.25px;top:662.55px;width:55.75px;height:35.65px;line-height:35.65px;font-size:21px;color:#d8cfcf;">8</div>
<div class="t" style="left:232.0px;top:662.55px;width:55.75px;height:35.65px;line-height:35.65px;font-size:21px;color:#d8cfcf;">1</div>
<div class="t" style="left:287.75px;top:662.55px;width:55.75px;height:35.65px;line-height:35.65px;font-size:21px;color:#d8cfcf;letter-spacing:-0.6px;">22</div>
<div class="t" style="left:399.25px;top:662.55px;width:65.75px;height:35.65px;line-height:35.65px;font-size:21px;color:#d8cfcf;">2</div>
<div class="t" style="left:465px;top:662.55px;width:41.5px;height:35.65px;line-height:35.65px;font-size:21px;color:#c9c9c9;">2</div>
<div class="t" style="left:506.5px;top:662.25px;width:41.5px;height:35.65px;line-height:35.65px;font-size:20px;color:#3f9a2a;">偶</div>
<div class="t" style="left:548px;top:662.55px;width:41.5px;height:35.65px;line-height:35.65px;font-size:21px;color:#c9c9c9;">2</div>
<div class="t" style="left:589.5px;top:662.25px;width:41.5px;height:35.65px;line-height:35.65px;font-size:20px;color:#3f9a2a;">合</div>
<div class="t" style="left:631px;top:662.25px;width:41.25px;height:35.65px;line-height:35.65px;font-size:20px;color:#e8772e;letter-spacing:-1px;">0路</div>
<div class="t" style="left:672.25px;top:662.55px;width:41.25px;height:35.65px;line-height:35.65px;font-size:21px;color:#c9c9c9;">1</div>
<div class="t" style="left:713.5px;top:662.55px;width:41.25px;height:35.65px;line-height:35.65px;font-size:21px;color:#c9c9c9;">4</div>
<div class="t" style="left:754.75px;top:662.25px;width:41.0px;height:35.65px;line-height:35.65px;font-size:20px;color:#e8772e;">升</div>
<div class="t" style="left:795.75px;top:662.55px;width:41.0px;height:35.65px;line-height:35.65px;font-size:21px;color:#c9c9c9;letter-spacing:-0.6px;">17</div>
<div class="t" style="left:836.75px;top:662.55px;width:41.0px;height:35.65px;line-height:35.65px;font-size:21px;color:#c9c9c9;">1</div>
<div class="t" style="left:877.75px;top:662.55px;width:41.0px;height:35.65px;line-height:35.65px;font-size:21px;color:#d3cbcb;">9</div>
<div class="t" style="left:918.75px;top:662.55px;width:40.75px;height:35.65px;line-height:35.65px;font-size:21px;color:#d3cbcb;">1</div>
<div class="t" style="left:959.5px;top:662.55px;width:40.5px;height:35.65px;line-height:35.65px;font-size:21px;color:#d3cbcb;letter-spacing:-0.6px;">10</div>
<div class="t" style="left:1040.5px;top:662.55px;width:40.5px;height:35.65px;line-height:35.65px;font-size:21px;color:#d3cbcb;">4</div>
<div class="t" style="left:9.0px;top:698.20px;width:55.75px;height:35.65px;line-height:35.65px;font-size:21px;color:#d8cfcf;letter-spacing:-0.6px;">20</div>
<div class="t" style="left:64.75px;top:698.20px;width:55.75px;height:35.65px;line-height:35.65px;font-size:21px;color:#d8cfcf;letter-spacing:-0.6px;">11</div>
<div class="t" style="left:120.5px;top:698.20px;width:55.75px;height:35.65px;line-height:35.65px;font-size:21px;color:#d8cfcf;">5</div>
<div class="t" style="left:176.25px;top:698.20px;width:55.75px;height:35.65px;line-height:35.65px;font-size:21px;color:#d8cfcf;">9</div>
<div class="t" style="left:232.0px;top:698.20px;width:55.75px;height:35.65px;line-height:35.65px;font-size:21px;color:#d8cfcf;">2</div>
<div class="t" style="left:287.75px;top:698.20px;width:55.75px;height:35.65px;line-height:35.65px;font-size:21px;color:#d8cfcf;letter-spacing:-0.6px;">23</div>
<div class="t" style="left:399.25px;top:698.20px;width:65.75px;height:35.65px;line-height:35.65px;font-size:21px;color:#d8cfcf;">3</div>
<div class="t" style="left:465px;top:698.20px;width:41.5px;height:35.65px;line-height:35.65px;font-size:21px;color:#c9c9c9;">3</div>
<div class="t" style="left:506.5px;top:697.90px;width:41.5px;height:35.65px;line-height:35.65px;font-size:20px;color:#3f9a2a;">偶</div>
<div class="t" style="left:548px;top:698.20px;width:41.5px;height:35.65px;line-height:35.65px;font-size:21px;color:#c9c9c9;">3</div>
<div class="t" style="left:589.5px;top:697.90px;width:41.5px;height:35.65px;line-height:35.65px;font-size:20px;color:#3f9a2a;">合</div>
<div class="t" style="left:631px;top:697.90px;width:41.25px;height:35.65px;line-height:35.65px;font-size:20px;color:#e8772e;letter-spacing:-1px;">0路</div>
<div class="t" style="left:672.25px;top:698.20px;width:41.25px;height:35.65px;line-height:35.65px;font-size:21px;color:#c9c9c9;">2</div>
<div class="t" style="left:713.5px;top:698.20px;width:41.25px;height:35.65px;line-height:35.65px;font-size:21px;color:#c9c9c9;">5</div>
<div class="t" style="left:754.75px;top:698.20px;width:41.0px;height:35.65px;line-height:35.65px;font-size:21px;color:#c9c9c9;">1</div>
<div class="t" style="left:795.75px;top:697.90px;width:41.0px;height:35.65px;line-height:35.65px;font-size:20px;color:#3f9a2a;">平</div>
<div class="t" style="left:836.75px;top:698.20px;width:41.0px;height:35.65px;line-height:35.65px;font-size:21px;color:#c9c9c9;">2</div>
<div class="t" style="left:877.75px;top:698.20px;width:41.0px;height:35.65px;line-height:35.65px;font-size:21px;color:#d3cbcb;letter-spacing:-0.6px;">10</div>
<div class="t" style="left:918.75px;top:698.20px;width:40.75px;height:35.65px;line-height:35.65px;font-size:21px;color:#d3cbcb;">2</div>
<div class="t" style="left:959.5px;top:698.20px;width:40.5px;height:35.65px;line-height:35.65px;font-size:21px;color:#d3cbcb;letter-spacing:-0.6px;">11</div>
<div class="t" style="left:1040.5px;top:698.20px;width:40.5px;height:35.65px;line-height:35.65px;font-size:21px;color:#d3cbcb;">5</div>
<div class="t" style="left:9.0px;top:733.85px;width:55.75px;height:35.65px;line-height:35.65px;font-size:21px;color:#d8cfcf;letter-spacing:-0.6px;">21</div>
<div class="t" style="left:64.75px;top:733.85px;width:55.75px;height:35.65px;line-height:35.65px;font-size:21px;color:#d8cfcf;letter-spacing:-0.6px;">12</div>
<div class="t" style="left:120.5px;top:733.85px;width:55.75px;height:35.65px;line-height:35.65px;font-size:21px;color:#d8cfcf;">6</div>
<div class="t" style="left:176.25px;top:733.85px;width:55.75px;height:35.65px;line-height:35.65px;font-size:21px;color:#d8cfcf;letter-spacing:-0.6px;">10</div>
<div class="t" style="left:232.0px;top:733.85px;width:55.75px;height:35.65px;line-height:35.65px;font-size:21px;color:#d8cfcf;">3</div>
<div class="t" style="left:287.75px;top:733.85px;width:55.75px;height:35.65px;line-height:35.65px;font-size:21px;color:#d8cfcf;letter-spacing:-0.6px;">24</div>
<div class="t" style="left:343.5px;top:733.85px;width:55.75px;height:35.65px;line-height:35.65px;font-size:21px;color:#d8cfcf;">1</div>
<div class="t" style="left:465px;top:733.85px;width:41.5px;height:35.65px;line-height:35.65px;font-size:21px;color:#c9c9c9;">4</div>
<div class="t" style="left:506.5px;top:733.55px;width:41.5px;height:35.65px;line-height:35.65px;font-size:20px;color:#3f9a2a;">偶</div>
<div class="t" style="left:548px;top:733.85px;width:41.5px;height:35.65px;line-height:35.65px;font-size:21px;color:#c9c9c9;">4</div>
<div class="t" style="left:589.5px;top:733.55px;width:41.5px;height:35.65px;line-height:35.65px;font-size:20px;color:#3f9a2a;">合</div>
<div class="t" style="left:631px;top:733.85px;width:41.25px;height:35.65px;line-height:35.65px;font-size:21px;color:#c9c9c9;">1</div>
<div class="t" style="left:672.25px;top:733.85px;width:41.25px;height:35.65px;line-height:35.65px;font-size:21px;color:#c9c9c9;">3</div>
<div class="t" style="left:713.5px;top:733.55px;width:41.25px;height:35.65px;line-height:35.65px;font-size:20px;color:#e8772e;letter-spacing:-1px;">2路</div>
<div class="t" style="left:754.75px;top:733.55px;width:41.0px;height:35.65px;line-height:35.65px;font-size:20px;color:#e8772e;">升</div>
<div class="t" style="left:795.75px;top:733.85px;width:41.0px;height:35.65px;line-height:35.65px;font-size:21px;color:#c9c9c9;">1</div>
<div class="t" style="left:836.75px;top:733.85px;width:41.0px;height:35.65px;line-height:35.65px;font-size:21px;color:#c9c9c9;">3</div>
<div class="t" style="left:877.75px;top:733.85px;width:41.0px;height:35.65px;line-height:35.65px;font-size:21px;color:#d3cbcb;letter-spacing:-0.6px;">11</div>
<div class="t" style="left:918.75px;top:733.85px;width:40.75px;height:35.65px;line-height:35.65px;font-size:21px;color:#d3cbcb;">3</div>
<div class="t" style="left:959.5px;top:733.85px;width:40.5px;height:35.65px;line-height:35.65px;font-size:21px;color:#d3cbcb;letter-spacing:-0.6px;">12</div>
<div class="t" style="left:1000px;top:733.85px;width:40.5px;height:35.65px;line-height:35.65px;font-size:21px;color:#d3cbcb;">1</div>
<div class="t" style="left:9.0px;top:769.50px;width:55.75px;height:35.65px;line-height:35.65px;font-size:21px;color:#d8cfcf;letter-spacing:-0.6px;">22</div>
<div class="t" style="left:64.75px;top:769.50px;width:55.75px;height:35.65px;line-height:35.65px;font-size:21px;color:#d8cfcf;letter-spacing:-0.6px;">13</div>
<div class="t" style="left:120.5px;top:769.50px;width:55.75px;height:35.65px;line-height:35.65px;font-size:21px;color:#d8cfcf;">7</div>
<div class="t" style="left:232.0px;top:769.50px;width:55.75px;height:35.65px;line-height:35.65px;font-size:21px;color:#d8cfcf;">4</div>
<div class="t" style="left:287.75px;top:769.50px;width:55.75px;height:35.65px;line-height:35.65px;font-size:21px;color:#d8cfcf;letter-spacing:-0.6px;">25</div>
<div class="t" style="left:343.5px;top:769.50px;width:55.75px;height:35.65px;line-height:35.65px;font-size:21px;color:#d8cfcf;">2</div>
<div class="t" style="left:399.25px;top:769.50px;width:65.75px;height:35.65px;line-height:35.65px;font-size:21px;color:#d8cfcf;">1</div>
<div class="t" style="left:465px;top:769.20px;width:41.5px;height:35.65px;line-height:35.65px;font-size:20px;color:#e8772e;">奇</div>
<div class="t" style="left:506.5px;top:769.50px;width:41.5px;height:35.65px;line-height:35.65px;font-size:21px;color:#c9c9c9;">1</div>
<div class="t" style="left:548px;top:769.50px;width:41.5px;height:35.65px;line-height:35.65px;font-size:21px;color:#c9c9c9;">5</div>
<div class="t" style="left:589.5px;top:769.20px;width:41.5px;height:35.65px;line-height:35.65px;font-size:20px;color:#3f9a2a;">合</div>
<div class="t" style="left:631px;top:769.20px;width:41.25px;height:35.65px;line-height:35.65px;font-size:20px;color:#e8772e;letter-spacing:-1px;">0路</div>
<div class="t" style="left:672.25px;top:769.50px;width:41.25px;height:35.65px;line-height:35.65px;font-size:21px;color:#c9c9c9;">4</div>
<div class="t" style="left:713.5px;top:769.50px;width:41.25px;height:35.65px;line-height:35.65px;font-size:21px;color:#c9c9c9;">1</div>
<div class="t" style="left:754.75px;top:769.50px;width:41.0px;height:35.65px;line-height:35.65px;font-size:21px;color:#c9c9c9;">1</div>
<div class="t" style="left:795.75px;top:769.50px;width:41.0px;height:35.65px;line-height:35.65px;font-size:21px;color:#c9c9c9;">2</div>
<div class="t" style="left:836.75px;top:769.20px;width:41.0px;height:35.65px;line-height:35.65px;font-size:20px;color:#e8772e;">降</div>
<div class="t" style="left:877.75px;top:769.50px;width:41.0px;height:35.65px;line-height:35.65px;font-size:21px;color:#d3cbcb;letter-spacing:-0.6px;">12</div>
<div class="t" style="left:959.5px;top:769.50px;width:40.5px;height:35.65px;line-height:35.65px;font-size:21px;color:#d3cbcb;letter-spacing:-0.6px;">13</div>
<div class="t" style="left:1000px;top:769.50px;width:40.5px;height:35.65px;line-height:35.65px;font-size:21px;color:#d3cbcb;">2</div>
<div class="t" style="left:1040.5px;top:769.50px;width:40.5px;height:35.65px;line-height:35.65px;font-size:21px;color:#d3cbcb;">1</div>
<div class="t" style="left:9.0px;top:805.15px;width:55.75px;height:35.65px;line-height:35.65px;font-size:21px;color:#d8cfcf;letter-spacing:-0.6px;">23</div>
<div class="t" style="left:64.75px;top:805.15px;width:55.75px;height:35.65px;line-height:35.65px;font-size:21px;color:#d8cfcf;letter-spacing:-0.6px;">14</div>
<div class="t" style="left:120.5px;top:805.15px;width:55.75px;height:35.65px;line-height:35.65px;font-size:21px;color:#d8cfcf;">8</div>
<div class="t" style="left:176.25px;top:805.15px;width:55.75px;height:35.65px;line-height:35.65px;font-size:21px;color:#d8cfcf;">1</div>
<div class="t" style="left:232.0px;top:805.15px;width:55.75px;height:35.65px;line-height:35.65px;font-size:21px;color:#d8cfcf;">5</div>
<div class="t" style="left:287.75px;top:805.15px;width:55.75px;height:35.65px;line-height:35.65px;font-size:21px;color:#d8cfcf;letter-spacing:-0.6px;">26</div>
<div class="t" style="left:399.25px;top:805.15px;width:65.75px;height:35.65px;line-height:35.65px;font-size:21px;color:#d8cfcf;">2</div>
<div class="t" style="left:465px;top:805.15px;width:41.5px;height:35.65px;line-height:35.65px;font-size:21px;color:#c9c9c9;">1</div>
<div class="t" style="left:506.5px;top:804.85px;width:41.5px;height:35.65px;line-height:35.65px;font-size:20px;color:#3f9a2a;">偶</div>
<div class="t" style="left:548px;top:805.15px;width:41.5px;height:35.65px;line-height:35.65px;font-size:21px;color:#c9c9c9;">6</div>
<div class="t" style="left:589.5px;top:804.85px;width:41.5px;height:35.65px;line-height:35.65px;font-size:20px;color:#3f9a2a;">合</div>
<div class="t" style="left:631px;top:804.85px;width:41.25px;height:35.65px;line-height:35.65px;font-size:20px;color:#e8772e;letter-spacing:-1px;">0路</div>
<div class="t" style="left:672.25px;top:805.15px;width:41.25px;height:35.65px;line-height:35.65px;font-size:21px;color:#c9c9c9;">5</div>
<div class="t" style="left:713.5px;top:805.15px;width:41.25px;height:35.65px;line-height:35.65px;font-size:21px;color:#c9c9c9;">2</div>
<div class="t" style="left:754.75px;top:804.85px;width:41.0px;height:35.65px;line-height:35.65px;font-size:20px;color:#e8772e;">升</div>
<div class="t" style="left:795.75px;top:805.15px;width:41.0px;height:35.65px;line-height:35.65px;font-size:21px;color:#c9c9c9;">3</div>
<div class="t" style="left:836.75px;top:805.15px;width:41.0px;height:35.65px;line-height:35.65px;font-size:21px;color:#c9c9c9;">1</div>
<div class="t" style="left:877.75px;top:805.15px;width:41.0px;height:35.65px;line-height:35.65px;font-size:21px;color:#d3cbcb;letter-spacing:-0.6px;">13</div>
<div class="t" style="left:918.75px;top:805.15px;width:40.75px;height:35.65px;line-height:35.65px;font-size:21px;color:#d3cbcb;">1</div>
<div class="t" style="left:959.5px;top:805.15px;width:40.5px;height:35.65px;line-height:35.65px;font-size:21px;color:#d3cbcb;letter-spacing:-0.6px;">14</div>
<div class="t" style="left:1040.5px;top:805.15px;width:40.5px;height:35.65px;line-height:35.65px;font-size:21px;color:#d3cbcb;">2</div>
<div class="t" style="left:9.0px;top:840.80px;width:55.75px;height:35.65px;line-height:35.65px;font-size:21px;color:#d8cfcf;letter-spacing:-0.6px;">24</div>
<div class="t" style="left:64.75px;top:840.80px;width:55.75px;height:35.65px;line-height:35.65px;font-size:21px;color:#d8cfcf;letter-spacing:-0.6px;">15</div>
<div class="t" style="left:120.5px;top:840.80px;width:55.75px;height:35.65px;line-height:35.65px;font-size:21px;color:#d8cfcf;">9</div>
<div class="t" style="left:176.25px;top:840.80px;width:55.75px;height:35.65px;line-height:35.65px;font-size:21px;color:#d8cfcf;">2</div>
<div class="t" style="left:232.0px;top:840.80px;width:55.75px;height:35.65px;line-height:35.65px;font-size:21px;color:#d8cfcf;">6</div>
<div class="t" style="left:287.75px;top:840.80px;width:55.75px;height:35.65px;line-height:35.65px;font-size:21px;color:#d8cfcf;letter-spacing:-0.6px;">27</div>
<div class="t" style="left:343.5px;top:840.80px;width:55.75px;height:35.65px;line-height:35.65px;font-size:21px;color:#d8cfcf;">1</div>
<div class="t" style="left:399.25px;top:840.80px;width:65.75px;height:35.65px;line-height:35.65px;font-size:21px;color:#d8cfcf;">3</div>
<div class="t" style="left:465px;top:840.80px;width:41.5px;height:35.65px;line-height:35.65px;font-size:21px;color:#c9c9c9;">2</div>
<div class="t" style="left:506.5px;top:840.50px;width:41.5px;height:35.65px;line-height:35.65px;font-size:20px;color:#3f9a2a;">偶</div>
<div class="t" style="left:548px;top:840.80px;width:41.5px;height:35.65px;line-height:35.65px;font-size:21px;color:#c9c9c9;">7</div>
<div class="t" style="left:589.5px;top:840.50px;width:41.5px;height:35.65px;line-height:35.65px;font-size:20px;color:#3f9a2a;">合</div>
<div class="t" style="left:631px;top:840.80px;width:41.25px;height:35.65px;line-height:35.65px;font-size:21px;color:#c9c9c9;">1</div>
<div class="t" style="left:672.25px;top:840.50px;width:41.25px;height:35.65px;line-height:35.65px;font-size:20px;color:#3f9a2a;letter-spacing:-1px;">1路</div>
<div class="t" style="left:713.5px;top:840.80px;width:41.25px;height:35.65px;line-height:35.65px;font-size:21px;color:#c9c9c9;">3</div>
<div class="t" style="left:754.75px;top:840.80px;width:41.0px;height:35.65px;line-height:35.65px;font-size:21px;color:#c9c9c9;">1</div>
<div class="t" style="left:795.75px;top:840.80px;width:41.0px;height:35.65px;line-height:35.65px;font-size:21px;color:#c9c9c9;">4</div>
<div class="t" style="left:836.75px;top:840.50px;width:41.0px;height:35.65px;line-height:35.65px;font-size:20px;color:#e8772e;">降</div>
<div class="t" style="left:918.75px;top:840.80px;width:40.75px;height:35.65px;line-height:35.65px;font-size:21px;color:#d3cbcb;">2</div>
<div class="t" style="left:959.5px;top:840.80px;width:40.5px;height:35.65px;line-height:35.65px;font-size:21px;color:#d3cbcb;letter-spacing:-0.6px;">15</div>
<div class="t" style="left:1000px;top:840.80px;width:40.5px;height:35.65px;line-height:35.65px;font-size:21px;color:#d3cbcb;">1</div>
<div class="t" style="left:1040.5px;top:840.80px;width:40.5px;height:35.65px;line-height:35.65px;font-size:21px;color:#d3cbcb;">3</div>
<div class="t" style="left:9.0px;top:876.45px;width:55.75px;height:35.65px;line-height:35.65px;font-size:21px;color:#d8cfcf;letter-spacing:-0.6px;">25</div>
<div class="t" style="left:64.75px;top:876.45px;width:55.75px;height:35.65px;line-height:35.65px;font-size:21px;color:#d8cfcf;letter-spacing:-0.6px;">16</div>
<div class="t" style="left:120.5px;top:876.45px;width:55.75px;height:35.65px;line-height:35.65px;font-size:21px;color:#d8cfcf;letter-spacing:-0.6px;">10</div>
<div class="t" style="left:176.25px;top:876.45px;width:55.75px;height:35.65px;line-height:35.65px;font-size:21px;color:#d8cfcf;">3</div>
<div class="t" style="left:232.0px;top:876.45px;width:55.75px;height:35.65px;line-height:35.65px;font-size:21px;color:#d8cfcf;">7</div>
<div class="t" style="left:287.75px;top:876.45px;width:55.75px;height:35.65px;line-height:35.65px;font-size:21px;color:#d8cfcf;letter-spacing:-0.6px;">28</div>
<div class="t" style="left:343.5px;top:876.45px;width:55.75px;height:35.65px;line-height:35.65px;font-size:21px;color:#d8cfcf;">2</div>
<div class="t" style="left:465px;top:876.15px;width:41.5px;height:35.65px;line-height:35.65px;font-size:20px;color:#e8772e;">奇</div>
<div class="t" style="left:506.5px;top:876.45px;width:41.5px;height:35.65px;line-height:35.65px;font-size:21px;color:#c9c9c9;">1</div>
<div class="t" style="left:548px;top:876.15px;width:41.5px;height:35.65px;line-height:35.65px;font-size:20px;color:#e8772e;">质</div>
<div class="t" style="left:589.5px;top:876.45px;width:41.5px;height:35.65px;line-height:35.65px;font-size:21px;color:#c9c9c9;">1</div>
<div class="t" style="left:631px;top:876.45px;width:41.25px;height:35.65px;line-height:35.65px;font-size:21px;color:#c9c9c9;">2</div>
<div class="t" style="left:672.25px;top:876.15px;width:41.25px;height:35.65px;line-height:35.65px;font-size:20px;color:#3f9a2a;letter-spacing:-1px;">1路</div>
<div class="t" style="left:713.5px;top:876.45px;width:41.25px;height:35.65px;line-height:35.65px;font-size:21px;color:#c9c9c9;">4</div>
<div class="t" style="left:754.75px;top:876.15px;width:41.0px;height:35.65px;line-height:35.65px;font-size:20px;color:#e8772e;">升</div>
<div class="t" style="left:795.75px;top:876.45px;width:41.0px;height:35.65px;line-height:35.65px;font-size:21px;color:#c9c9c9;">5</div>
<div class="t" style="left:836.75px;top:876.45px;width:41.0px;height:35.65px;line-height:35.65px;font-size:21px;color:#c9c9c9;">1</div>
<div class="t" style="left:877.75px;top:876.45px;width:41.0px;height:35.65px;line-height:35.65px;font-size:21px;color:#d3cbcb;">1</div>
<div class="t" style="left:918.75px;top:876.45px;width:40.75px;height:35.65px;line-height:35.65px;font-size:21px;color:#d3cbcb;">3</div>
<div class="t" style="left:959.5px;top:876.45px;width:40.5px;height:35.65px;line-height:35.65px;font-size:21px;color:#d3cbcb;letter-spacing:-0.6px;">16</div>
<div class="t" style="left:1040.5px;top:876.45px;width:40.5px;height:35.65px;line-height:35.65px;font-size:21px;color:#d3cbcb;">4</div>
<div class="t" style="left:9.0px;top:912.10px;width:55.75px;height:35.65px;line-height:35.65px;font-size:21px;color:#d8cfcf;letter-spacing:-0.6px;">26</div>
<div class="t" style="left:64.75px;top:912.10px;width:55.75px;height:35.65px;line-height:35.65px;font-size:21px;color:#d8cfcf;letter-spacing:-0.6px;">17</div>
<div class="t" style="left:120.5px;top:912.10px;width:55.75px;height:35.65px;line-height:35.65px;font-size:21px;color:#d8cfcf;letter-spacing:-0.6px;">11</div>
<div class="t" style="left:176.25px;top:912.10px;width:55.75px;height:35.65px;line-height:35.65px;font-size:21px;color:#d8cfcf;">4</div>
<div class="t" style="left:232.0px;top:912.10px;width:55.75px;height:35.65px;line-height:35.65px;font-size:21px;color:#d8cfcf;">8</div>
<div class="t" style="left:343.5px;top:912.10px;width:55.75px;height:35.65px;line-height:35.65px;font-size:21px;color:#d8cfcf;">3</div>
<div class="t" style="left:399.25px;top:912.10px;width:65.75px;height:35.65px;line-height:35.65px;font-size:21px;color:#d8cfcf;">1</div>
<div class="t" style="left:465px;top:911.80px;width:41.5px;height:35.65px;line-height:35.65px;font-size:20px;color:#e8772e;">奇</div>
<div class="t" style="left:506.5px;top:912.10px;width:41.5px;height:35.65px;line-height:35.65px;font-size:21px;color:#c9c9c9;">2</div>
<div class="t" style="left:548px;top:911.80px;width:41.5px;height:35.65px;line-height:35.65px;font-size:20px;color:#e8772e;">质</div>
<div class="t" style="left:589.5px;top:912.10px;width:41.5px;height:35.65px;line-height:35.65px;font-size:21px;color:#c9c9c9;">2</div>
<div class="t" style="left:631px;top:912.10px;width:41.25px;height:35.65px;line-height:35.65px;font-size:21px;color:#c9c9c9;">3</div>
<div class="t" style="left:672.25px;top:912.10px;width:41.25px;height:35.65px;line-height:35.65px;font-size:21px;color:#c9c9c9;">1</div>
<div class="t" style="left:713.5px;top:911.80px;width:41.25px;height:35.65px;line-height:35.65px;font-size:20px;color:#e8772e;letter-spacing:-1px;">2路</div>
<div class="t" style="left:754.75px;top:912.10px;width:41.0px;height:35.65px;line-height:35.65px;font-size:21px;color:#c9c9c9;">1</div>
<div class="t" style="left:795.75px;top:912.10px;width:41.0px;height:35.65px;line-height:35.65px;font-size:21px;color:#c9c9c9;">6</div>
<div class="t" style="left:836.75px;top:911.80px;width:41.0px;height:35.65px;line-height:35.65px;font-size:20px;color:#e8772e;">降</div>
<div class="t" style="left:877.75px;top:912.10px;width:41.0px;height:35.65px;line-height:35.65px;font-size:21px;color:#d3cbcb;">2</div>
<div class="t" style="left:918.75px;top:912.10px;width:40.75px;height:35.65px;line-height:35.65px;font-size:21px;color:#d3cbcb;">4</div>
<div class="t" style="left:959.5px;top:912.10px;width:40.5px;height:35.65px;line-height:35.65px;font-size:21px;color:#d3cbcb;letter-spacing:-0.6px;">17</div>
<div class="t" style="left:1000px;top:912.10px;width:40.5px;height:35.65px;line-height:35.65px;font-size:21px;color:#d3cbcb;">1</div>
<div class="t" style="left:9.0px;top:947.75px;width:55.75px;height:35.65px;line-height:35.65px;font-size:21px;color:#d8cfcf;letter-spacing:-0.6px;">27</div>
<div class="t" style="left:64.75px;top:947.75px;width:55.75px;height:35.65px;line-height:35.65px;font-size:21px;color:#d8cfcf;letter-spacing:-0.6px;">18</div>
<div class="t" style="left:120.5px;top:947.75px;width:55.75px;height:35.65px;line-height:35.65px;font-size:21px;color:#d8cfcf;letter-spacing:-0.6px;">12</div>
<div class="t" style="left:176.25px;top:947.75px;width:55.75px;height:35.65px;line-height:35.65px;font-size:21px;color:#d8cfcf;">5</div>
<div class="t" style="left:232.0px;top:947.75px;width:55.75px;height:35.65px;line-height:35.65px;font-size:21px;color:#d8cfcf;">9</div>
<div class="t" style="left:287.75px;top:947.75px;width:55.75px;height:35.65px;line-height:35.65px;font-size:21px;color:#d8cfcf;">1</div>
<div class="t" style="left:343.5px;top:947.75px;width:55.75px;height:35.65px;line-height:35.65px;font-size:21px;color:#d8cfcf;">4</div>
<div class="t" style="left:399.25px;top:947.75px;width:65.75px;height:35.65px;line-height:35.65px;font-size:21px;color:#d8cfcf;">2</div>
<div class="t" style="left:465px;top:947.45px;width:41.5px;height:35.65px;line-height:35.65px;font-size:20px;color:#e8772e;">奇</div>
<div class="t" style="left:506.5px;top:947.75px;width:41.5px;height:35.65px;line-height:35.65px;font-size:21px;color:#c9c9c9;">3</div>
<div class="t" style="left:548px;top:947.75px;width:41.5px;height:35.65px;line-height:35.65px;font-size:21px;color:#c9c9c9;">1</div>
<div class="t" style="left:589.5px;top:947.45px;width:41.5px;height:35.65px;line-height:35.65px;font-size:20px;color:#3f9a2a;">合</div>
<div class="t" style="left:631px;top:947.45px;width:41.25px;height:35.65px;line-height:35.65px;font-size:20px;color:#e8772e;letter-spacing:-1px;">0路</div>
<div class="t" style="left:672.25px;top:947.75px;width:41.25px;height:35.65px;line-height:35.65px;font-size:21px;color:#c9c9c9;">2</div>
<div class="t" style="left:713.5px;top:947.75px;width:41.25px;height:35.65px;line-height:35.65px;font-size:21px;color:#c9c9c9;">1</div>
<div class="t" style="left:754.75px;top:947.75px;width:41.0px;height:35.65px;line-height:35.65px;font-size:21px;color:#c9c9c9;">2</div>
<div class="t" style="left:795.75px;top:947.75px;width:41.0px;height:35.65px;line-height:35.65px;font-size:21px;color:#c9c9c9;">7</div>
<div class="t" style="left:836.75px;top:947.45px;width:41.0px;height:35.65px;line-height:35.65px;font-size:20px;color:#e8772e;">降</div>
<div class="t" style="left:918.75px;top:947.75px;width:40.75px;height:35.65px;line-height:35.65px;font-size:21px;color:#d3cbcb;">5</div>
<div class="t" style="left:959.5px;top:947.75px;width:40.5px;height:35.65px;line-height:35.65px;font-size:21px;color:#d3cbcb;letter-spacing:-0.6px;">18</div>
<div class="t" style="left:1000px;top:947.75px;width:40.5px;height:35.65px;line-height:35.65px;font-size:21px;color:#d3cbcb;">2</div>
<div class="t" style="left:1040.5px;top:947.75px;width:40.5px;height:35.65px;line-height:35.65px;font-size:21px;color:#d3cbcb;">1</div>
<div class="t" style="left:9.0px;top:983.40px;width:55.75px;height:35.65px;line-height:35.65px;font-size:21px;color:#d8cfcf;letter-spacing:-0.6px;">28</div>
<div class="t" style="left:64.75px;top:983.40px;width:55.75px;height:35.65px;line-height:35.65px;font-size:21px;color:#d8cfcf;letter-spacing:-0.6px;">19</div>
<div class="t" style="left:120.5px;top:983.40px;width:55.75px;height:35.65px;line-height:35.65px;font-size:21px;color:#d8cfcf;letter-spacing:-0.6px;">13</div>
<div class="t" style="left:232.0px;top:983.40px;width:55.75px;height:35.65px;line-height:35.65px;font-size:21px;color:#d8cfcf;letter-spacing:-0.6px;">10</div>
<div class="t" style="left:287.75px;top:983.40px;width:55.75px;height:35.65px;line-height:35.65px;font-size:21px;color:#d8cfcf;">2</div>
<div class="t" style="left:343.5px;top:983.40px;width:55.75px;height:35.65px;line-height:35.65px;font-size:21px;color:#d8cfcf;">5</div>
<div class="t" style="left:399.25px;top:983.40px;width:65.75px;height:35.65px;line-height:35.65px;font-size:21px;color:#d8cfcf;">3</div>
<div class="t" style="left:465px;top:983.10px;width:41.5px;height:35.65px;line-height:35.65px;font-size:20px;color:#e8772e;">奇</div>
<div class="t" style="left:506.5px;top:983.40px;width:41.5px;height:35.65px;line-height:35.65px;font-size:21px;color:#c9c9c9;">4</div>
<div class="t" style="left:548px;top:983.40px;width:41.5px;height:35.65px;line-height:35.65px;font-size:21px;color:#c9c9c9;">2</div>
<div class="t" style="left:589.5px;top:983.10px;width:41.5px;height:35.65px;line-height:35.65px;font-size:20px;color:#3f9a2a;">合</div>
<div class="t" style="left:631px;top:983.10px;width:41.25px;height:35.65px;line-height:35.65px;font-size:20px;color:#e8772e;letter-spacing:-1px;">0路</div>
<div class="t" style="left:672.25px;top:983.40px;width:41.25px;height:35.65px;line-height:35.65px;font-size:21px;color:#c9c9c9;">3</div>
<div class="t" style="left:713.5px;top:983.40px;width:41.25px;height:35.65px;line-height:35.65px;font-size:21px;color:#c9c9c9;">2</div>
<div class="t" style="left:754.75px;top:983.10px;width:41.0px;height:35.65px;line-height:35.65px;font-size:20px;color:#e8772e;">升</div>
<div class="t" style="left:795.75px;top:983.40px;width:41.0px;height:35.65px;line-height:35.65px;font-size:21px;color:#c9c9c9;">8</div>
<div class="t" style="left:836.75px;top:983.40px;width:41.0px;height:35.65px;line-height:35.65px;font-size:21px;color:#c9c9c9;">1</div>
<div class="t" style="left:877.75px;top:983.40px;width:41.0px;height:35.65px;line-height:35.65px;font-size:21px;color:#d3cbcb;">1</div>
<div class="t" style="left:959.5px;top:983.40px;width:40.5px;height:35.65px;line-height:35.65px;font-size:21px;color:#d3cbcb;letter-spacing:-0.6px;">19</div>
<div class="t" style="left:1000px;top:983.40px;width:40.5px;height:35.65px;line-height:35.65px;font-size:21px;color:#d3cbcb;">3</div>
<div class="t" style="left:1040.5px;top:983.40px;width:40.5px;height:35.65px;line-height:35.65px;font-size:21px;color:#d3cbcb;">2</div>
<div class="t" style="left:9.0px;top:1019.05px;width:55.75px;height:35.65px;line-height:35.65px;font-size:21px;color:#d8cfcf;letter-spacing:-0.6px;">29</div>
<div class="t" style="left:64.75px;top:1019.05px;width:55.75px;height:35.65px;line-height:35.65px;font-size:21px;color:#d8cfcf;letter-spacing:-0.6px;">20</div>
<div class="t" style="left:120.5px;top:1019.05px;width:55.75px;height:35.65px;line-height:35.65px;font-size:21px;color:#d8cfcf;letter-spacing:-0.6px;">14</div>
<div class="t" style="left:176.25px;top:1019.05px;width:55.75px;height:35.65px;line-height:35.65px;font-size:21px;color:#d8cfcf;">1</div>
<div class="t" style="left:232.0px;top:1019.05px;width:55.75px;height:35.65px;line-height:35.65px;font-size:21px;color:#d8cfcf;letter-spacing:-0.6px;">11</div>
<div class="t" style="left:287.75px;top:1019.05px;width:55.75px;height:35.65px;line-height:35.65px;font-size:21px;color:#d8cfcf;">3</div>
<div class="t" style="left:343.5px;top:1019.05px;width:55.75px;height:35.65px;line-height:35.65px;font-size:21px;color:#d8cfcf;">6</div>
<div class="t" style="left:399.25px;top:1019.05px;width:65.75px;height:35.65px;line-height:35.65px;font-size:21px;color:#d8cfcf;">4</div>
<div class="t" style="left:465px;top:1018.75px;width:41.5px;height:35.65px;line-height:35.65px;font-size:20px;color:#e8772e;">奇</div>
<div class="t" style="left:506.5px;top:1019.05px;width:41.5px;height:35.65px;line-height:35.65px;font-size:21px;color:#c9c9c9;">5</div>
<div class="t" style="left:548px;top:1018.75px;width:41.5px;height:35.65px;line-height:35.65px;font-size:20px;color:#e8772e;">质</div>
<div class="t" style="left:589.5px;top:1019.05px;width:41.5px;height:35.65px;line-height:35.65px;font-size:21px;color:#c9c9c9;">1</div>
<div class="t" style="left:631px;top:1019.05px;width:41.25px;height:35.65px;line-height:35.65px;font-size:21px;color:#c9c9c9;">1</div>
<div class="t" style="left:672.25px;top:1019.05px;width:41.25px;height:35.65px;line-height:35.65px;font-size:21px;color:#c9c9c9;">4</div>
<div class="t" style="left:713.5px;top:1018.75px;width:41.25px;height:35.65px;line-height:35.65px;font-size:20px;color:#e8772e;letter-spacing:-1px;">2路</div>
<div class="t" style="left:754.75px;top:1019.05px;width:41.0px;height:35.65px;line-height:35.65px;font-size:21px;color:#c9c9c9;">1</div>
<div class="t" style="left:795.75px;top:1019.05px;width:41.0px;height:35.65px;line-height:35.65px;font-size:21px;color:#c9c9c9;">9</div>
<div class="t" style="left:836.75px;top:1018.75px;width:41.0px;height:35.65px;line-height:35.65px;font-size:20px;color:#e8772e;">降</div>
<div class="t" style="left:877.75px;top:1019.05px;width:41.0px;height:35.65px;line-height:35.65px;font-size:21px;color:#d3cbcb;">2</div>
<div class="t" style="left:918.75px;top:1019.05px;width:40.75px;height:35.65px;line-height:35.65px;font-size:21px;color:#d3cbcb;">1</div>
<div class="t" style="left:959.5px;top:1019.05px;width:40.5px;height:35.65px;line-height:35.65px;font-size:21px;color:#d3cbcb;letter-spacing:-0.6px;">20</div>
<div class="t" style="left:1000px;top:1019.05px;width:40.5px;height:35.65px;line-height:35.65px;font-size:21px;color:#d3cbcb;">4</div>
<div class="t" style="left:9.0px;top:1054.70px;width:55.75px;height:35.65px;line-height:35.65px;font-size:21px;color:#d8cfcf;letter-spacing:-0.6px;">30</div>
<div class="t" style="left:64.75px;top:1054.70px;width:55.75px;height:35.65px;line-height:35.65px;font-size:21px;color:#d8cfcf;letter-spacing:-0.6px;">21</div>
<div class="t" style="left:120.5px;top:1054.70px;width:55.75px;height:35.65px;line-height:35.65px;font-size:21px;color:#d8cfcf;letter-spacing:-0.6px;">15</div>
<div class="t" style="left:176.25px;top:1054.70px;width:55.75px;height:35.65px;line-height:35.65px;font-size:21px;color:#d8cfcf;">2</div>
<div class="t" style="left:232.0px;top:1054.70px;width:55.75px;height:35.65px;line-height:35.65px;font-size:21px;color:#d8cfcf;letter-spacing:-0.6px;">12</div>
<div class="t" style="left:287.75px;top:1054.70px;width:55.75px;height:35.65px;line-height:35.65px;font-size:21px;color:#d8cfcf;">4</div>
<div class="t" style="left:343.5px;top:1054.70px;width:55.75px;height:35.65px;line-height:35.65px;font-size:21px;color:#d8cfcf;">7</div>
<div class="t" style="left:399.25px;top:1054.70px;width:65.75px;height:35.65px;line-height:35.65px;font-size:21px;color:#d8cfcf;">5</div>
<div class="t" style="left:465px;top:1054.70px;width:41.5px;height:35.65px;line-height:35.65px;font-size:21px;color:#c9c9c9;">1</div>
<div class="t" style="left:506.5px;top:1054.40px;width:41.5px;height:35.65px;line-height:35.65px;font-size:20px;color:#3f9a2a;">偶</div>
<div class="t" style="left:548px;top:1054.70px;width:41.5px;height:35.65px;line-height:35.65px;font-size:21px;color:#c9c9c9;">1</div>
<div class="t" style="left:589.5px;top:1054.40px;width:41.5px;height:35.65px;line-height:35.65px;font-size:20px;color:#3f9a2a;">合</div>
<div class="t" style="left:631px;top:1054.40px;width:41.25px;height:35.65px;line-height:35.65px;font-size:20px;color:#e8772e;letter-spacing:-1px;">0路</div>
<div class="t" style="left:672.25px;top:1054.70px;width:41.25px;height:35.65px;line-height:35.65px;font-size:21px;color:#c9c9c9;">5</div>
<div class="t" style="left:713.5px;top:1054.70px;width:41.25px;height:35.65px;line-height:35.65px;font-size:21px;color:#c9c9c9;">1</div>
<div class="t" style="left:754.75px;top:1054.70px;width:41.0px;height:35.65px;line-height:35.65px;font-size:21px;color:#c9c9c9;">2</div>
<div class="t" style="left:795.75px;top:1054.70px;width:41.0px;height:35.65px;line-height:35.65px;font-size:21px;color:#c9c9c9;letter-spacing:-0.6px;">10</div>
<div class="t" style="left:836.75px;top:1054.40px;width:41.0px;height:35.65px;line-height:35.65px;font-size:20px;color:#e8772e;">降</div>
<div class="t" style="left:877.75px;top:1054.70px;width:41.0px;height:35.65px;line-height:35.65px;font-size:21px;color:#d3cbcb;">3</div>
<div class="t" style="left:918.75px;top:1054.70px;width:40.75px;height:35.65px;line-height:35.65px;font-size:21px;color:#d3cbcb;">2</div>
<div class="t" style="left:959.5px;top:1054.70px;width:40.5px;height:35.65px;line-height:35.65px;font-size:21px;color:#d3cbcb;letter-spacing:-0.6px;">21</div>
<div class="t" style="left:1040.5px;top:1054.70px;width:40.5px;height:35.65px;line-height:35.65px;font-size:21px;color:#d3cbcb;">1</div>
<div class="t" style="left:9.0px;top:1090.35px;width:55.75px;height:35.65px;line-height:35.65px;font-size:21px;color:#d8cfcf;letter-spacing:-0.6px;">31</div>
<div class="t" style="left:64.75px;top:1090.35px;width:55.75px;height:35.65px;line-height:35.65px;font-size:21px;color:#d8cfcf;letter-spacing:-0.6px;">22</div>
<div class="t" style="left:120.5px;top:1090.35px;width:55.75px;height:35.65px;line-height:35.65px;font-size:21px;color:#d8cfcf;letter-spacing:-0.6px;">16</div>
<div class="t" style="left:176.25px;top:1090.35px;width:55.75px;height:35.65px;line-height:35.65px;font-size:21px;color:#d8cfcf;">3</div>
<div class="t" style="left:232.0px;top:1090.35px;width:55.75px;height:35.65px;line-height:35.65px;font-size:21px;color:#d8cfcf;letter-spacing:-0.6px;">13</div>
<div class="t" style="left:287.75px;top:1090.35px;width:55.75px;height:35.65px;line-height:35.65px;font-size:21px;color:#d8cfcf;">5</div>
<div class="t" style="left:343.5px;top:1090.35px;width:55.75px;height:35.65px;line-height:35.65px;font-size:21px;color:#d8cfcf;">8</div>
<div class="t" style="left:399.25px;top:1090.35px;width:65.75px;height:35.65px;line-height:35.65px;font-size:21px;color:#d8cfcf;">6</div>
<div class="t" style="left:465px;top:1090.05px;width:41.5px;height:35.65px;line-height:35.65px;font-size:20px;color:#e8772e;">奇</div>
<div class="t" style="left:506.5px;top:1090.35px;width:41.5px;height:35.65px;line-height:35.65px;font-size:21px;color:#c9c9c9;">1</div>
<div class="t" style="left:548px;top:1090.35px;width:41.5px;height:35.65px;line-height:35.65px;font-size:21px;color:#c9c9c9;">2</div>
<div class="t" style="left:589.5px;top:1090.05px;width:41.5px;height:35.65px;line-height:35.65px;font-size:20px;color:#3f9a2a;">合</div>
<div class="t" style="left:631px;top:1090.05px;width:41.25px;height:35.65px;line-height:35.65px;font-size:20px;color:#e8772e;letter-spacing:-1px;">0路</div>
<div class="t" style="left:672.25px;top:1090.35px;width:41.25px;height:35.65px;line-height:35.65px;font-size:21px;color:#c9c9c9;">6</div>
<div class="t" style="left:713.5px;top:1090.35px;width:41.25px;height:35.65px;line-height:35.65px;font-size:21px;color:#c9c9c9;">2</div>
<div class="t" style="left:754.75px;top:1090.05px;width:41.0px;height:35.65px;line-height:35.65px;font-size:20px;color:#e8772e;">升</div>
<div class="t" style="left:795.75px;top:1090.35px;width:41.0px;height:35.65px;line-height:35.65px;font-size:21px;color:#c9c9c9;letter-spacing:-0.6px;">11</div>
<div class="t" style="left:836.75px;top:1090.35px;width:41.0px;height:35.65px;line-height:35.65px;font-size:21px;color:#c9c9c9;">1</div>
<div class="t" style="left:918.75px;top:1090.35px;width:40.75px;height:35.65px;line-height:35.65px;font-size:21px;color:#d3cbcb;">3</div>
<div class="t" style="left:959.5px;top:1090.35px;width:40.5px;height:35.65px;line-height:35.65px;font-size:21px;color:#d3cbcb;letter-spacing:-0.6px;">22</div>
<div class="t" style="left:1000px;top:1090.35px;width:40.5px;height:35.65px;line-height:35.65px;font-size:21px;color:#d3cbcb;">1</div>
<div class="t" style="left:1040.5px;top:1090.35px;width:40.5px;height:35.65px;line-height:35.65px;font-size:21px;color:#d3cbcb;">2</div>
<div class="t" style="left:9.0px;top:1126.00px;width:55.75px;height:35.65px;line-height:35.65px;font-size:21px;color:#d8cfcf;letter-spacing:-0.6px;">32</div>
<div class="t" style="left:120.5px;top:1126.00px;width:55.75px;height:35.65px;line-height:35.65px;font-size:21px;color:#d8cfcf;letter-spacing:-0.6px;">17</div>
<div class="t" style="left:176.25px;top:1126.00px;width:55.75px;height:35.65px;line-height:35.65px;font-size:21px;color:#d8cfcf;">4</div>
<div class="t" style="left:232.0px;top:1126.00px;width:55.75px;height:35.65px;line-height:35.65px;font-size:21px;color:#d8cfcf;letter-spacing:-0.6px;">14</div>
<div class="t" style="left:287.75px;top:1126.00px;width:55.75px;height:35.65px;line-height:35.65px;font-size:21px;color:#d8cfcf;">6</div>
<div class="t" style="left:343.5px;top:1126.00px;width:55.75px;height:35.65px;line-height:35.65px;font-size:21px;color:#d8cfcf;">9</div>
<div class="t" style="left:399.25px;top:1126.00px;width:65.75px;height:35.65px;line-height:35.65px;font-size:21px;color:#d8cfcf;">7</div>
<div class="t" style="left:465px;top:1125.70px;width:41.5px;height:35.65px;line-height:35.65px;font-size:20px;color:#e8772e;">奇</div>
<div class="t" style="left:506.5px;top:1126.00px;width:41.5px;height:35.65px;line-height:35.65px;font-size:21px;color:#c9c9c9;">2</div>
<div class="t" style="left:548px;top:1126.00px;width:41.5px;height:35.65px;line-height:35.65px;font-size:21px;color:#c9c9c9;">3</div>
<div class="t" style="left:589.5px;top:1125.70px;width:41.5px;height:35.65px;line-height:35.65px;font-size:20px;color:#3f9a2a;">合</div>
<div class="t" style="left:631px;top:1126.00px;width:41.25px;height:35.65px;line-height:35.65px;font-size:21px;color:#c9c9c9;">1</div>
<div class="t" style="left:672.25px;top:1125.70px;width:41.25px;height:35.65px;line-height:35.65px;font-size:20px;color:#3f9a2a;letter-spacing:-1px;">1路</div>
<div class="t" style="left:713.5px;top:1126.00px;width:41.25px;height:35.65px;line-height:35.65px;font-size:21px;color:#c9c9c9;">3</div>
<div class="t" style="left:754.75px;top:1125.70px;width:41.0px;height:35.65px;line-height:35.65px;font-size:20px;color:#e8772e;">升</div>
<div class="t" style="left:795.75px;top:1126.00px;width:41.0px;height:35.65px;line-height:35.65px;font-size:21px;color:#c9c9c9;letter-spacing:-0.6px;">12</div>
<div class="t" style="left:836.75px;top:1126.00px;width:41.0px;height:35.65px;line-height:35.65px;font-size:21px;color:#c9c9c9;">2</div>
<div class="t" style="left:877.75px;top:1126.00px;width:41.0px;height:35.65px;line-height:35.65px;font-size:21px;color:#d3cbcb;">1</div>
<div class="t" style="left:918.75px;top:1126.00px;width:40.75px;height:35.65px;line-height:35.65px;font-size:21px;color:#d3cbcb;">4</div>
<div class="t" style="left:1000px;top:1126.00px;width:40.5px;height:35.65px;line-height:35.65px;font-size:21px;color:#d3cbcb;">2</div>
<div class="t" style="left:1040.5px;top:1126.00px;width:40.5px;height:35.65px;line-height:35.65px;font-size:21px;color:#d3cbcb;">3</div>
<div class="t" style="left:9.0px;top:1161.65px;width:55.75px;height:35.65px;line-height:35.65px;font-size:21px;color:#d8cfcf;letter-spacing:-0.6px;">33</div>
<div class="t" style="left:64.75px;top:1161.65px;width:55.75px;height:35.65px;line-height:35.65px;font-size:21px;color:#d8cfcf;">1</div>
<div class="t" style="left:120.5px;top:1161.65px;width:55.75px;height:35.65px;line-height:35.65px;font-size:21px;color:#d8cfcf;letter-spacing:-0.6px;">18</div>
<div class="t" style="left:176.25px;top:1161.65px;width:55.75px;height:35.65px;line-height:35.65px;font-size:21px;color:#d8cfcf;">5</div>
<div class="t" style="left:232.0px;top:1161.65px;width:55.75px;height:35.65px;line-height:35.65px;font-size:21px;color:#d8cfcf;letter-spacing:-0.6px;">15</div>
<div class="t" style="left:287.75px;top:1161.65px;width:55.75px;height:35.65px;line-height:35.65px;font-size:21px;color:#d8cfcf;">7</div>
<div class="t" style="left:399.25px;top:1161.65px;width:65.75px;height:35.65px;line-height:35.65px;font-size:21px;color:#d8cfcf;">8</div>
<div class="t" style="left:465px;top:1161.65px;width:41.5px;height:35.65px;line-height:35.65px;font-size:21px;color:#c9c9c9;">1</div>
<div class="t" style="left:506.5px;top:1161.35px;width:41.5px;height:35.65px;line-height:35.65px;font-size:20px;color:#3f9a2a;">偶</div>
<div class="t" style="left:548px;top:1161.65px;width:41.5px;height:35.65px;line-height:35.65px;font-size:21px;color:#c9c9c9;">4</div>
<div class="t" style="left:589.5px;top:1161.35px;width:41.5px;height:35.65px;line-height:35.65px;font-size:20px;color:#3f9a2a;">合</div>
<div class="t" style="left:631px;top:1161.35px;width:41.25px;height:35.65px;line-height:35.65px;font-size:20px;color:#e8772e;letter-spacing:-1px;">0路</div>
<div class="t" style="left:672.25px;top:1161.65px;width:41.25px;height:35.65px;line-height:35.65px;font-size:21px;color:#c9c9c9;">1</div>
<div class="t" style="left:713.5px;top:1161.65px;width:41.25px;height:35.65px;line-height:35.65px;font-size:21px;color:#c9c9c9;">4</div>
<div class="t" style="left:754.75px;top:1161.35px;width:41.0px;height:35.65px;line-height:35.65px;font-size:20px;color:#e8772e;">升</div>
<div class="t" style="left:795.75px;top:1161.65px;width:41.0px;height:35.65px;line-height:35.65px;font-size:21px;color:#c9c9c9;letter-spacing:-0.6px;">13</div>
<div class="t" style="left:836.75px;top:1161.65px;width:41.0px;height:35.65px;line-height:35.65px;font-size:21px;color:#c9c9c9;">3</div>
<div class="t" style="left:877.75px;top:1161.65px;width:41.0px;height:35.65px;line-height:35.65px;font-size:21px;color:#d3cbcb;">2</div>
<div class="t" style="left:918.75px;top:1161.65px;width:40.75px;height:35.65px;line-height:35.65px;font-size:21px;color:#d3cbcb;">5</div>
<div class="t" style="left:959.5px;top:1161.65px;width:40.5px;height:35.65px;line-height:35.65px;font-size:21px;color:#d3cbcb;">1</div>
<div class="t" style="left:1040.5px;top:1161.65px;width:40.5px;height:35.65px;line-height:35.65px;font-size:21px;color:#d3cbcb;">4</div>
<div class="t" style="left:9.0px;top:1197.30px;width:55.75px;height:35.65px;line-height:35.65px;font-size:21px;color:#d8cfcf;letter-spacing:-0.6px;">34</div>
<div class="t" style="left:64.75px;top:1197.30px;width:55.75px;height:35.65px;line-height:35.65px;font-size:21px;color:#d8cfcf;">2</div>
<div class="t" style="left:120.5px;top:1197.30px;width:55.75px;height:35.65px;line-height:35.65px;font-size:21px;color:#d8cfcf;letter-spacing:-0.6px;">19</div>
<div class="t" style="left:176.25px;top:1197.30px;width:55.75px;height:35.65px;line-height:35.65px;font-size:21px;color:#d8cfcf;">6</div>
<div class="t" style="left:232.0px;top:1197.30px;width:55.75px;height:35.65px;line-height:35.65px;font-size:21px;color:#d8cfcf;letter-spacing:-0.6px;">16</div>
<div class="t" style="left:287.75px;top:1197.30px;width:55.75px;height:35.65px;line-height:35.65px;font-size:21px;color:#d8cfcf;">8</div>
<div class="t" style="left:399.25px;top:1197.30px;width:65.75px;height:35.65px;line-height:35.65px;font-size:21px;color:#d8cfcf;">9</div>
<div class="t" style="left:465px;top:1197.30px;width:41.5px;height:35.65px;line-height:35.65px;font-size:21px;color:#c9c9c9;">2</div>
<div class="t" style="left:506.5px;top:1197.00px;width:41.5px;height:35.65px;line-height:35.65px;font-size:20px;color:#3f9a2a;">偶</div>
<div class="t" style="left:548px;top:1197.30px;width:41.5px;height:35.65px;line-height:35.65px;font-size:21px;color:#c9c9c9;">5</div>
<div class="t" style="left:589.5px;top:1197.00px;width:41.5px;height:35.65px;line-height:35.65px;font-size:20px;color:#3f9a2a;">合</div>
<div class="t" style="left:631px;top:1197.00px;width:41.25px;height:35.65px;line-height:35.65px;font-size:20px;color:#e8772e;letter-spacing:-1px;">0路</div>
<div class="t" style="left:672.25px;top:1197.30px;width:41.25px;height:35.65px;line-height:35.65px;font-size:21px;color:#c9c9c9;">2</div>
<div class="t" style="left:713.5px;top:1197.30px;width:41.25px;height:35.65px;line-height:35.65px;font-size:21px;color:#c9c9c9;">5</div>
<div class="t" style="left:754.75px;top:1197.30px;width:41.0px;height:35.65px;line-height:35.65px;font-size:21px;color:#c9c9c9;">1</div>
<div class="t" style="left:795.75px;top:1197.00px;width:41.0px;height:35.65px;line-height:35.65px;font-size:20px;color:#3f9a2a;">平</div>
<div class="t" style="left:836.75px;top:1197.30px;width:41.0px;height:35.65px;line-height:35.65px;font-size:21px;color:#c9c9c9;">4</div>
<div class="t" style="left:877.75px;top:1197.30px;width:41.0px;height:35.65px;line-height:35.65px;font-size:21px;color:#d3cbcb;">3</div>
<div class="t" style="left:918.75px;top:1197.30px;width:40.75px;height:35.65px;line-height:35.65px;font-size:21px;color:#d3cbcb;">6</div>
<div class="t" style="left:959.5px;top:1197.30px;width:40.5px;height:35.65px;line-height:35.65px;font-size:21px;color:#d3cbcb;">2</div>
<div class="t" style="left:1040.5px;top:1197.30px;width:40.5px;height:35.65px;line-height:35.65px;font-size:21px;color:#d3cbcb;">5</div>
<div class="t" style="left:9.0px;top:1232.95px;width:55.75px;height:35.65px;line-height:35.65px;font-size:21px;color:#d8cfcf;letter-spacing:-0.6px;">35</div>
<div class="t" style="left:64.75px;top:1232.95px;width:55.75px;height:35.65px;line-height:35.65px;font-size:21px;color:#d8cfcf;">3</div>
<div class="t" style="left:120.5px;top:1232.95px;width:55.75px;height:35.65px;line-height:35.65px;font-size:21px;color:#d8cfcf;letter-spacing:-0.6px;">20</div>
<div class="t" style="left:176.25px;top:1232.95px;width:55.75px;height:35.65px;line-height:35.65px;font-size:21px;color:#d8cfcf;">7</div>
<div class="t" style="left:232.0px;top:1232.95px;width:55.75px;height:35.65px;line-height:35.65px;font-size:21px;color:#d8cfcf;letter-spacing:-0.6px;">17</div>
<div class="t" style="left:287.75px;top:1232.95px;width:55.75px;height:35.65px;line-height:35.65px;font-size:21px;color:#d8cfcf;">9</div>
<div class="t" style="left:343.5px;top:1232.95px;width:55.75px;height:35.65px;line-height:35.65px;font-size:21px;color:#d8cfcf;">1</div>
<div class="t" style="left:399.25px;top:1232.95px;width:65.75px;height:35.65px;line-height:35.65px;font-size:21px;color:#d8cfcf;letter-spacing:-0.6px;">10</div>
<div class="t" style="left:465px;top:1232.95px;width:41.5px;height:35.65px;line-height:35.65px;font-size:21px;color:#c9c9c9;">3</div>
<div class="t" style="left:506.5px;top:1232.65px;width:41.5px;height:35.65px;line-height:35.65px;font-size:20px;color:#3f9a2a;">偶</div>
<div class="t" style="left:548px;top:1232.95px;width:41.5px;height:35.65px;line-height:35.65px;font-size:21px;color:#c9c9c9;">6</div>
<div class="t" style="left:589.5px;top:1232.65px;width:41.5px;height:35.65px;line-height:35.65px;font-size:20px;color:#3f9a2a;">合</div>
<div class="t" style="left:631px;top:1232.95px;width:41.25px;height:35.65px;line-height:35.65px;font-size:21px;color:#c9c9c9;">1</div>
<div class="t" style="left:672.25px;top:1232.65px;width:41.25px;height:35.65px;line-height:35.65px;font-size:20px;color:#3f9a2a;letter-spacing:-1px;">1路</div>
<div class="t" style="left:713.5px;top:1232.95px;width:41.25px;height:35.65px;line-height:35.65px;font-size:21px;color:#c9c9c9;">6</div>
<div class="t" style="left:754.75px;top:1232.95px;width:41.0px;height:35.65px;line-height:35.65px;font-size:21px;color:#c9c9c9;">2</div>
<div class="t" style="left:795.75px;top:1232.95px;width:41.0px;height:35.65px;line-height:35.65px;font-size:21px;color:#c9c9c9;">1</div>
<div class="t" style="left:836.75px;top:1232.65px;width:41.0px;height:35.65px;line-height:35.65px;font-size:20px;color:#e8772e;">降</div>
<div class="t" style="left:918.75px;top:1232.95px;width:40.75px;height:35.65px;line-height:35.65px;font-size:21px;color:#d3cbcb;">7</div>
<div class="t" style="left:959.5px;top:1232.95px;width:40.5px;height:35.65px;line-height:35.65px;font-size:21px;color:#d3cbcb;">3</div>
<div class="t" style="left:1000px;top:1232.95px;width:40.5px;height:35.65px;line-height:35.65px;font-size:21px;color:#d3cbcb;">1</div>
<div class="t" style="left:1040.5px;top:1232.95px;width:40.5px;height:35.65px;line-height:35.65px;font-size:21px;color:#d3cbcb;">6</div>
<div class="t" style="left:9.0px;top:1268.60px;width:55.75px;height:35.65px;line-height:35.65px;font-size:21px;color:#d8cfcf;letter-spacing:-0.6px;">36</div>
<div class="t" style="left:64.75px;top:1268.60px;width:55.75px;height:35.65px;line-height:35.65px;font-size:21px;color:#d8cfcf;">4</div>
<div class="t" style="left:120.5px;top:1268.60px;width:55.75px;height:35.65px;line-height:35.65px;font-size:21px;color:#d8cfcf;letter-spacing:-0.6px;">21</div>
<div class="t" style="left:176.25px;top:1268.60px;width:55.75px;height:35.65px;line-height:35.65px;font-size:21px;color:#d8cfcf;">8</div>
<div class="t" style="left:232.0px;top:1268.60px;width:55.75px;height:35.65px;line-height:35.65px;font-size:21px;color:#d8cfcf;letter-spacing:-0.6px;">18</div>
<div class="t" style="left:343.5px;top:1268.60px;width:55.75px;height:35.65px;line-height:35.65px;font-size:21px;color:#d8cfcf;">2</div>
<div class="t" style="left:399.25px;top:1268.60px;width:65.75px;height:35.65px;line-height:35.65px;font-size:21px;color:#d8cfcf;letter-spacing:-0.6px;">11</div>
<div class="t" style="left:465px;top:1268.30px;width:41.5px;height:35.65px;line-height:35.65px;font-size:20px;color:#e8772e;">奇</div>
<div class="t" style="left:506.5px;top:1268.60px;width:41.5px;height:35.65px;line-height:35.65px;font-size:21px;color:#c9c9c9;">1</div>
<div class="t" style="left:548px;top:1268.30px;width:41.5px;height:35.65px;line-height:35.65px;font-size:20px;color:#e8772e;">质</div>
<div class="t" style="left:589.5px;top:1268.60px;width:41.5px;height:35.65px;line-height:35.65px;font-size:21px;color:#c9c9c9;">1</div>
<div class="t" style="left:631px;top:1268.60px;width:41.25px;height:35.65px;line-height:35.65px;font-size:21px;color:#c9c9c9;">2</div>
<div class="t" style="left:672.25px;top:1268.60px;width:41.25px;height:35.65px;line-height:35.65px;font-size:21px;color:#c9c9c9;">1</div>
<div class="t" style="left:713.5px;top:1268.30px;width:41.25px;height:35.65px;line-height:35.65px;font-size:20px;color:#e8772e;letter-spacing:-1px;">2路</div>
<div class="t" style="left:754.75px;top:1268.30px;width:41.0px;height:35.65px;line-height:35.65px;font-size:20px;color:#e8772e;">升</div>
<div class="t" style="left:795.75px;top:1268.60px;width:41.0px;height:35.65px;line-height:35.65px;font-size:21px;color:#c9c9c9;">2</div>
<div class="t" style="left:836.75px;top:1268.60px;width:41.0px;height:35.65px;line-height:35.65px;font-size:21px;color:#c9c9c9;">1</div>
<div class="t" style="left:877.75px;top:1268.60px;width:41.0px;height:35.65px;line-height:35.65px;font-size:21px;color:#d3cbcb;">1</div>
<div class="t" style="left:918.75px;top:1268.60px;width:40.75px;height:35.65px;line-height:35.65px;font-size:21px;color:#d3cbcb;">8</div>
<div class="t" style="left:959.5px;top:1268.60px;width:40.5px;height:35.65px;line-height:35.65px;font-size:21px;color:#d3cbcb;">4</div>
<div class="t" style="left:1000px;top:1268.60px;width:40.5px;height:35.65px;line-height:35.65px;font-size:21px;color:#d3cbcb;">2</div>
<div class="t" style="left:9.0px;top:1304.25px;width:55.75px;height:35.65px;line-height:35.65px;font-size:21px;color:#d8cfcf;letter-spacing:-0.6px;">37</div>
<div class="t" style="left:64.75px;top:1304.25px;width:55.75px;height:35.65px;line-height:35.65px;font-size:21px;color:#d8cfcf;">5</div>
<div class="t" style="left:120.5px;top:1304.25px;width:55.75px;height:35.65px;line-height:35.65px;font-size:21px;color:#d8cfcf;letter-spacing:-0.6px;">22</div>
<div class="t" style="left:176.25px;top:1304.25px;width:55.75px;height:35.65px;line-height:35.65px;font-size:21px;color:#d8cfcf;">9</div>
<div class="t" style="left:232.0px;top:1304.25px;width:55.75px;height:35.65px;line-height:35.65px;font-size:21px;color:#d8cfcf;letter-spacing:-0.6px;">19</div>
<div class="t" style="left:287.75px;top:1304.25px;width:55.75px;height:35.65px;line-height:35.65px;font-size:21px;color:#d8cfcf;">1</div>
<div class="t" style="left:343.5px;top:1304.25px;width:55.75px;height:35.65px;line-height:35.65px;font-size:21px;color:#d8cfcf;">3</div>
<div class="t" style="left:399.25px;top:1304.25px;width:65.75px;height:35.65px;line-height:35.65px;font-size:21px;color:#d8cfcf;letter-spacing:-0.6px;">12</div>
<div class="t" style="left:465px;top:1304.25px;width:41.5px;height:35.65px;line-height:35.65px;font-size:21px;color:#c9c9c9;">1</div>
<div class="t" style="left:506.5px;top:1303.95px;width:41.5px;height:35.65px;line-height:35.65px;font-size:20px;color:#3f9a2a;">偶</div>
<div class="t" style="left:548px;top:1304.25px;width:41.5px;height:35.65px;line-height:35.65px;font-size:21px;color:#c9c9c9;">1</div>
<div class="t" style="left:589.5px;top:1303.95px;width:41.5px;height:35.65px;line-height:35.65px;font-size:20px;color:#3f9a2a;">合</div>
<div class="t" style="left:631px;top:1303.95px;width:41.25px;height:35.65px;line-height:35.65px;font-size:20px;color:#e8772e;letter-spacing:-1px;">0路</div>
<div class="t" style="left:672.25px;top:1304.25px;width:41.25px;height:35.65px;line-height:35.65px;font-size:21px;color:#c9c9c9;">2</div>
<div class="t" style="left:713.5px;top:1304.25px;width:41.25px;height:35.65px;line-height:35.65px;font-size:21px;color:#c9c9c9;">1</div>
<div class="t" style="left:754.75px;top:1304.25px;width:41.0px;height:35.65px;line-height:35.65px;font-size:21px;color:#c9c9c9;">1</div>
<div class="t" style="left:795.75px;top:1304.25px;width:41.0px;height:35.65px;line-height:35.65px;font-size:21px;color:#c9c9c9;">3</div>
<div class="t" style="left:836.75px;top:1303.95px;width:41.0px;height:35.65px;line-height:35.65px;font-size:20px;color:#e8772e;">降</div>
<div class="t" style="left:877.75px;top:1304.25px;width:41.0px;height:35.65px;line-height:35.65px;font-size:21px;color:#d3cbcb;">2</div>
<div class="t" style="left:918.75px;top:1304.25px;width:40.75px;height:35.65px;line-height:35.65px;font-size:21px;color:#d3cbcb;">9</div>
<div class="t" style="left:959.5px;top:1304.25px;width:40.5px;height:35.65px;line-height:35.65px;font-size:21px;color:#d3cbcb;">5</div>
<div class="t" style="left:1040.5px;top:1304.25px;width:40.5px;height:35.65px;line-height:35.65px;font-size:21px;color:#d3cbcb;">1</div>
<div class="t" style="left:9.0px;top:1339.90px;width:55.75px;height:35.65px;line-height:35.65px;font-size:21px;color:#d8cfcf;letter-spacing:-0.6px;">38</div>
<div class="t" style="left:64.75px;top:1339.90px;width:55.75px;height:35.65px;line-height:35.65px;font-size:21px;color:#d8cfcf;">6</div>
<div class="t" style="left:120.5px;top:1339.90px;width:55.75px;height:35.65px;line-height:35.65px;font-size:21px;color:#d8cfcf;letter-spacing:-0.6px;">23</div>
<div class="t" style="left:176.25px;top:1339.90px;width:55.75px;height:35.65px;line-height:35.65px;font-size:21px;color:#d8cfcf;letter-spacing:-0.6px;">10</div>
<div class="t" style="left:232.0px;top:1339.90px;width:55.75px;height:35.65px;line-height:35.65px;font-size:21px;color:#d8cfcf;letter-spacing:-0.6px;">20</div>
<div class="t" style="left:287.75px;top:1339.90px;width:55.75px;height:35.65px;line-height:35.65px;font-size:21px;color:#d8cfcf;">2</div>
<div class="t" style="left:343.5px;top:1339.90px;width:55.75px;height:35.65px;line-height:35.65px;font-size:21px;color:#d8cfcf;">4</div>
<div class="t" style="left:399.25px;top:1339.90px;width:65.75px;height:35.65px;line-height:35.65px;font-size:21px;color:#d8cfcf;letter-spacing:-0.6px;">13</div>
<div class="t" style="left:465px;top:1339.90px;width:41.5px;height:35.65px;line-height:35.65px;font-size:21px;color:#c9c9c9;">2</div>
<div class="t" style="left:506.5px;top:1339.60px;width:41.5px;height:35.65px;line-height:35.65px;font-size:20px;color:#3f9a2a;">偶</div>
<div class="t" style="left:548px;top:1339.90px;width:41.5px;height:35.65px;line-height:35.65px;font-size:21px;color:#c9c9c9;">2</div>
<div class="t" style="left:589.5px;top:1339.60px;width:41.5px;height:35.65px;line-height:35.65px;font-size:20px;color:#3f9a2a;">合</div>
<div class="t" style="left:631px;top:1339.90px;width:41.25px;height:35.65px;line-height:35.65px;font-size:21px;color:#c9c9c9;">1</div>
<div class="t" style="left:672.25px;top:1339.60px;width:41.25px;height:35.65px;line-height:35.65px;font-size:20px;color:#3f9a2a;letter-spacing:-1px;">1路</div>
<div class="t" style="left:713.5px;top:1339.90px;width:41.25px;height:35.65px;line-height:35.65px;font-size:21px;color:#c9c9c9;">2</div>
<div class="t" style="left:754.75px;top:1339.90px;width:41.0px;height:35.65px;line-height:35.65px;font-size:21px;color:#c9c9c9;">2</div>
<div class="t" style="left:795.75px;top:1339.90px;width:41.0px;height:35.65px;line-height:35.65px;font-size:21px;color:#c9c9c9;">4</div>
<div class="t" style="left:836.75px;top:1339.60px;width:41.0px;height:35.65px;line-height:35.65px;font-size:20px;color:#e8772e;">降</div>
<div class="t" style="left:877.75px;top:1339.90px;width:41.0px;height:35.65px;line-height:35.65px;font-size:21px;color:#d3cbcb;">3</div>
<div class="t" style="left:959.5px;top:1339.90px;width:40.5px;height:35.65px;line-height:35.65px;font-size:21px;color:#d3cbcb;">6</div>
<div class="t" style="left:1000px;top:1339.90px;width:40.5px;height:35.65px;line-height:35.65px;font-size:21px;color:#d3cbcb;">1</div>
<div class="t" style="left:1040.5px;top:1339.90px;width:40.5px;height:35.65px;line-height:35.65px;font-size:21px;color:#d3cbcb;">2</div>
<div class="t" style="left:9.0px;top:1375.55px;width:55.75px;height:35.65px;line-height:35.65px;font-size:21px;color:#d8cfcf;letter-spacing:-0.6px;">39</div>
<div class="t" style="left:64.75px;top:1375.55px;width:55.75px;height:35.65px;line-height:35.65px;font-size:21px;color:#d8cfcf;">7</div>
<div class="t" style="left:120.5px;top:1375.55px;width:55.75px;height:35.65px;line-height:35.65px;font-size:21px;color:#d8cfcf;letter-spacing:-0.6px;">24</div>
<div class="t" style="left:176.25px;top:1375.55px;width:55.75px;height:35.65px;line-height:35.65px;font-size:21px;color:#d8cfcf;letter-spacing:-0.6px;">11</div>
<div class="t" style="left:232.0px;top:1375.55px;width:55.75px;height:35.65px;line-height:35.65px;font-size:21px;color:#d8cfcf;letter-spacing:-0.6px;">21</div>
<div class="t" style="left:343.5px;top:1375.55px;width:55.75px;height:35.65px;line-height:35.65px;font-size:21px;color:#d8cfcf;">5</div>
<div class="t" style="left:399.25px;top:1375.55px;width:65.75px;height:35.65px;line-height:35.65px;font-size:21px;color:#d8cfcf;letter-spacing:-0.6px;">14</div>
<div class="t" style="left:465px;top:1375.25px;width:41.5px;height:35.65px;line-height:35.65px;font-size:20px;color:#e8772e;">奇</div>
<div class="t" style="left:506.5px;top:1375.55px;width:41.5px;height:35.65px;line-height:35.65px;font-size:21px;color:#c9c9c9;">1</div>
<div class="t" style="left:548px;top:1375.25px;width:41.5px;height:35.65px;line-height:35.65px;font-size:20px;color:#e8772e;">质</div>
<div class="t" style="left:589.5px;top:1375.55px;width:41.5px;height:35.65px;line-height:35.65px;font-size:21px;color:#c9c9c9;">1</div>
<div class="t" style="left:631px;top:1375.55px;width:41.25px;height:35.65px;line-height:35.65px;font-size:21px;color:#c9c9c9;">2</div>
<div class="t" style="left:672.25px;top:1375.55px;width:41.25px;height:35.65px;line-height:35.65px;font-size:21px;color:#c9c9c9;">1</div>
<div class="t" style="left:713.5px;top:1375.25px;width:41.25px;height:35.65px;line-height:35.65px;font-size:20px;color:#e8772e;letter-spacing:-1px;">2路</div>
<div class="t" style="left:754.75px;top:1375.25px;width:41.0px;height:35.65px;line-height:35.65px;font-size:20px;color:#e8772e;">升</div>
<div class="t" style="left:795.75px;top:1375.55px;width:41.0px;height:35.65px;line-height:35.65px;font-size:21px;color:#c9c9c9;">5</div>
<div class="t" style="left:836.75px;top:1375.55px;width:41.0px;height:35.65px;line-height:35.65px;font-size:21px;color:#c9c9c9;">1</div>
<div class="t" style="left:877.75px;top:1375.55px;width:41.0px;height:35.65px;line-height:35.65px;font-size:21px;color:#d3cbcb;">4</div>
<div class="t" style="left:918.75px;top:1375.55px;width:40.75px;height:35.65px;line-height:35.65px;font-size:21px;color:#d3cbcb;">1</div>
<div class="t" style="left:959.5px;top:1375.55px;width:40.5px;height:35.65px;line-height:35.65px;font-size:21px;color:#d3cbcb;">7</div>
<div class="t" style="left:1000px;top:1375.55px;width:40.5px;height:35.65px;line-height:35.65px;font-size:21px;color:#d3cbcb;">2</div>
<svg class="a" style="left:0;top:0" width="1080" height="1501" viewBox="0 0 1080 1501">
<defs><radialGradient id="bg" cx="0.45" cy="0.4" r="0.6"><stop offset="0" stop-color="#e23a38"/><stop offset="1" stop-color="#cc2428"/></radialGradient></defs>
<path d="M-80.10 356.72 L204.12 392.87 L-239.70 428.02 L-122.60 463.67 L432.12 499.82 L148.38 535.48 L259.88 571.12 L432.12 606.77 L259.88 642.42 L371.38 678.08 L371.38 713.73 L432.12 749.38 L204.12 785.02 L371.38 820.67 L-89.00 855.03 L432.12 891.98 L315.62 927.62 L-84.50 962.27 L204.12 998.92 L-20.70 1034.08 L-130.00 1069.73 L-80.00 1105.38 L92.62 1141.52 L371.38 1177.17 L371.38 1212.83 L-93.80 1248.68 L315.62 1284.12 L-125.30 1319.27 L-196.50 1354.92 L315.62 1391.08" fill="none" stroke="#f3b0b0" stroke-width="5" stroke-linejoin="round" opacity="0.6"/>
<path d="M-80.10 356.72 L204.12 392.87 L-239.70 428.02 L-122.60 463.67 L432.12 499.82 L148.38 535.48 L259.88 571.12 L432.12 606.77 L259.88 642.42 L371.38 678.08 L371.38 713.73 L432.12 749.38 L204.12 785.02 L371.38 820.67 L-89.00 855.03 L432.12 891.98 L315.62 927.62 L-84.50 962.27 L204.12 998.92 L-20.70 1034.08 L-130.00 1069.73 L-80.00 1105.38 L92.62 1141.52 L371.38 1177.17 L371.38 1212.83 L-93.80 1248.68 L315.62 1284.12 L-125.30 1319.27 L-196.50 1354.92 L315.62 1391.08" fill="none" stroke="#b3111a" stroke-width="2.7" stroke-linejoin="round"/>
<circle cx="204.12" cy="394.37" r="13.3" fill="url(#bg)" stroke="rgba(235,120,120,0.45)" stroke-width="2"/>
<text x="204.12" y="402.37" text-anchor="middle" font-family="Liberation Sans, sans-serif" font-weight="bold" font-size="22" fill="#fff" textLength="19" lengthAdjust="spacingAndGlyphs">27</text>
<circle cx="432.12" cy="501.32" r="13.3" fill="url(#bg)" stroke="rgba(235,120,120,0.45)" stroke-width="2"/>
<text x="432.12" y="509.32" text-anchor="middle" font-family="Liberation Sans, sans-serif" font-weight="bold" font-size="22" fill="#fff" textLength="18" lengthAdjust="spacingAndGlyphs">31</text>
<circle cx="148.38" cy="536.98" r="13.3" fill="url(#bg)" stroke="rgba(235,120,120,0.45)" stroke-width="2"/>
<text x="148.38" y="544.98" text-anchor="middle" font-family="Liberation Sans, sans-serif" font-weight="bold" font-size="22" fill="#fff" textLength="19" lengthAdjust="spacingAndGlyphs">26</text>
<circle cx="259.88" cy="572.62" r="13.3" fill="url(#bg)" stroke="rgba(235,120,120,0.45)" stroke-width="2"/>
<text x="259.88" y="580.62" text-anchor="middle" font-family="Liberation Sans, sans-serif" font-weight="bold" font-size="22" fill="#fff" textLength="19" lengthAdjust="spacingAndGlyphs">28</text>
<circle cx="432.12" cy="608.27" r="13.3" fill="url(#bg)" stroke="rgba(235,120,120,0.45)" stroke-width="2"/>
<text x="432.12" y="616.27" text-anchor="middle" font-family="Liberation Sans, sans-serif" font-weight="bold" font-size="22" fill="#fff" textLength="18" lengthAdjust="spacingAndGlyphs">31</text>
<circle cx="259.88" cy="643.92" r="13.3" fill="url(#bg)" stroke="rgba(235,120,120,0.45)" stroke-width="2"/>
<text x="259.88" y="651.92" text-anchor="middle" font-family="Liberation Sans, sans-serif" font-weight="bold" font-size="22" fill="#fff" textLength="19" lengthAdjust="spacingAndGlyphs">28</text>
<circle cx="371.38" cy="679.58" r="13.3" fill="url(#bg)" stroke="rgba(235,120,120,0.45)" stroke-width="2"/>
<text x="371.38" y="687.58" text-anchor="middle" font-family="Liberation Sans, sans-serif" font-weight="bold" font-size="22" fill="#fff" textLength="19" lengthAdjust="spacingAndGlyphs">30</text>
<circle cx="371.38" cy="715.23" r="13.3" fill="url(#bg)" stroke="rgba(235,120,120,0.45)" stroke-width="2"/>
<text x="371.38" y="723.23" text-anchor="middle" font-family="Liberation Sans, sans-serif" font-weight="bold" font-size="22" fill="#fff" textLength="19" lengthAdjust="spacingAndGlyphs">30</text>
<circle cx="432.12" cy="750.88" r="13.3" fill="url(#bg)" stroke="rgba(235,120,120,0.45)" stroke-width="2"/>
<text x="432.12" y="758.88" text-anchor="middle" font-family="Liberation Sans, sans-serif" font-weight="bold" font-size="22" fill="#fff" textLength="19" lengthAdjust="spacingAndGlyphs">32</text>
<circle cx="204.12" cy="786.52" r="13.3" fill="url(#bg)" stroke="rgba(235,120,120,0.45)" stroke-width="2"/>
<text x="204.12" y="794.52" text-anchor="middle" font-family="Liberation Sans, sans-serif" font-weight="bold" font-size="22" fill="#fff" textLength="19" lengthAdjust="spacingAndGlyphs">27</text>
<circle cx="371.38" cy="822.17" r="13.3" fill="url(#bg)" stroke="rgba(235,120,120,0.45)" stroke-width="2"/>
<text x="371.38" y="830.17" text-anchor="middle" font-family="Liberation Sans, sans-serif" font-weight="bold" font-size="22" fill="#fff" textLength="19" lengthAdjust="spacingAndGlyphs">30</text>
<circle cx="432.12" cy="893.48" r="13.3" fill="url(#bg)" stroke="rgba(235,120,120,0.45)" stroke-width="2"/>
<text x="432.12" y="901.48" text-anchor="middle" font-family="Liberation Sans, sans-serif" font-weight="bold" font-size="22" fill="#fff" textLength="18" lengthAdjust="spacingAndGlyphs">31</text>
<circle cx="315.62" cy="929.12" r="13.3" fill="url(#bg)" stroke="rgba(235,120,120,0.45)" stroke-width="2"/>
<text x="315.62" y="937.12" text-anchor="middle" font-family="Liberation Sans, sans-serif" font-weight="bold" font-size="22" fill="#fff" textLength="19" lengthAdjust="spacingAndGlyphs">29</text>
<circle cx="204.12" cy="1000.42" r="13.3" fill="url(#bg)" stroke="rgba(235,120,120,0.45)" stroke-width="2"/>
<text x="204.12" y="1008.42" text-anchor="middle" font-family="Liberation Sans, sans-serif" font-weight="bold" font-size="22" fill="#fff" textLength="19" lengthAdjust="spacingAndGlyphs">27</text>
<circle cx="92.62" cy="1143.02" r="13.3" fill="url(#bg)" stroke="rgba(235,120,120,0.45)" stroke-width="2"/>
<text x="92.62" y="1151.02" text-anchor="middle" font-family="Liberation Sans, sans-serif" font-weight="bold" font-size="22" fill="#fff" textLength="19" lengthAdjust="spacingAndGlyphs">25</text>
<circle cx="371.38" cy="1178.67" r="13.3" fill="url(#bg)" stroke="rgba(235,120,120,0.45)" stroke-width="2"/>
<text x="371.38" y="1186.67" text-anchor="middle" font-family="Liberation Sans, sans-serif" font-weight="bold" font-size="22" fill="#fff" textLength="19" lengthAdjust="spacingAndGlyphs">30</text>
<circle cx="371.38" cy="1214.33" r="13.3" fill="url(#bg)" stroke="rgba(235,120,120,0.45)" stroke-width="2"/>
<text x="371.38" y="1222.33" text-anchor="middle" font-family="Liberation Sans, sans-serif" font-weight="bold" font-size="22" fill="#fff" textLength="19" lengthAdjust="spacingAndGlyphs">30</text>
<circle cx="315.62" cy="1285.62" r="13.3" fill="url(#bg)" stroke="rgba(235,120,120,0.45)" stroke-width="2"/>
<text x="315.62" y="1293.62" text-anchor="middle" font-family="Liberation Sans, sans-serif" font-weight="bold" font-size="22" fill="#fff" textLength="19" lengthAdjust="spacingAndGlyphs">29</text>
<circle cx="315.62" cy="1392.58" r="13.3" fill="url(#bg)" stroke="rgba(235,120,120,0.45)" stroke-width="2"/>
<text x="315.62" y="1400.58" text-anchor="middle" font-family="Liberation Sans, sans-serif" font-weight="bold" font-size="22" fill="#fff" textLength="19" lengthAdjust="spacingAndGlyphs">29</text>
<rect x="884.75" y="344.92" width="27" height="27" rx="3.5" fill="#17986b"/>
<rect x="925.62" y="380.57" width="27" height="27" rx="3.5" fill="#17986b"/>
<rect x="1047.25" y="416.22" width="27" height="27" rx="3.5" fill="#17986b"/>
<rect x="1006.75" y="451.87" width="27" height="27" rx="3.5" fill="#17986b"/>
<rect x="1006.75" y="487.52" width="27" height="27" rx="3.5" fill="#17986b"/>
<rect x="1047.25" y="523.18" width="27" height="27" rx="3.5" fill="#17986b"/>
<rect x="925.62" y="558.83" width="27" height="27" rx="3.5" fill="#17986b"/>
<rect x="1006.75" y="594.48" width="27" height="27" rx="3.5" fill="#17986b"/>
<rect x="925.62" y="630.12" width="27" height="27" rx="3.5" fill="#17986b"/>
<rect x="1006.75" y="665.78" width="27" height="27" rx="3.5" fill="#17986b"/>
<rect x="1006.75" y="701.43" width="27" height="27" rx="3.5" fill="#17986b"/>
<rect x="1047.25" y="737.08" width="27" height="27" rx="3.5" fill="#17986b"/>
<rect x="925.62" y="772.73" width="27" height="27" rx="3.5" fill="#17986b"/>
<rect x="1006.75" y="808.38" width="27" height="27" rx="3.5" fill="#17986b"/>
<rect x="884.75" y="844.03" width="27" height="27" rx="3.5" fill="#17986b"/>
<rect x="1006.75" y="879.68" width="27" height="27" rx="3.5" fill="#17986b"/>
<rect x="1047.25" y="915.33" width="27" height="27" rx="3.5" fill="#17986b"/>
<rect x="884.75" y="950.98" width="27" height="27" rx="3.5" fill="#17986b"/>
<rect x="925.62" y="986.62" width="27" height="27" rx="3.5" fill="#17986b"/>
<rect x="1047.25" y="1022.28" width="27" height="27" rx="3.5" fill="#17986b"/>
<rect x="1006.75" y="1057.93" width="27" height="27" rx="3.5" fill="#17986b"/>
<rect x="884.75" y="1093.58" width="27" height="27" rx="3.5" fill="#17986b"/>
<rect x="966.25" y="1129.22" width="27" height="27" rx="3.5" fill="#17986b"/>
<rect x="1006.75" y="1164.88" width="27" height="27" rx="3.5" fill="#17986b"/>
<rect x="1006.75" y="1200.53" width="27" height="27" rx="3.5" fill="#17986b"/>
<rect x="884.75" y="1236.18" width="27" height="27" rx="3.5" fill="#17986b"/>
<rect x="1047.25" y="1271.83" width="27" height="27" rx="3.5" fill="#17986b"/>
<rect x="1006.75" y="1307.47" width="27" height="27" rx="3.5" fill="#17986b"/>
<rect x="925.62" y="1343.12" width="27" height="27" rx="3.5" fill="#17986b"/>
<rect x="1047.25" y="1378.78" width="27" height="27" rx="3.5" fill="#17986b"/>
<path d="M908.80 367.63 L928.57 384.87 M952.56 398.01 L1047.32 425.79 M1050.24 438.98 L1030.76 456.12 M1020.25 479.37 L1020.25 487.02 M1030.76 510.28 L1050.24 527.42 M1047.32 540.61 L952.56 568.39 M951.94 577.96 L1007.43 602.34 M1007.43 613.61 L951.94 637.99 M951.94 649.26 L1007.43 673.64 M1020.25 693.28 L1020.25 700.93 M1030.76 724.18 L1050.24 741.32 M1047.32 754.51 L952.56 782.29 M951.94 791.86 L1007.43 816.24 M1006.81 825.80 L911.69 853.60 M911.69 861.45 L1006.81 889.25 M1030.76 902.43 L1050.24 919.57 M1047.08 931.83 L911.92 961.47 M908.80 973.68 L928.57 990.92 M952.56 1004.06 L1047.32 1031.84 M1050.24 1045.03 L1030.76 1062.17 M1006.81 1075.35 L911.69 1103.15 M911.08 1112.69 L966.92 1137.11 M990.26 1151.98 L1009.74 1169.12 M1020.25 1192.38 L1020.25 1200.03 M1006.81 1217.95 L911.69 1245.75 M911.92 1252.68 L1047.08 1282.32 M1050.24 1294.58 L1030.76 1311.72 M1007.43 1326.61 L951.94 1350.99 M952.56 1360.56 L1047.32 1388.34" fill="none" stroke="#10861f" stroke-width="2.8" stroke-linecap="butt"/>
<text x="898.25" y="365.42" text-anchor="middle" font-family="Liberation Sans, sans-serif" font-weight="bold" font-size="20" fill="#fff">金</text>
<text x="939.12" y="401.07" text-anchor="middle" font-family="Liberation Sans, sans-serif" font-weight="bold" font-size="20" fill="#fff">木</text>
<text x="1060.75" y="436.72" text-anchor="middle" font-family="Liberation Sans, sans-serif" font-weight="bold" font-size="20" fill="#fff">土</text>
<text x="1020.25" y="472.37" text-anchor="middle" font-family="Liberation Sans, sans-serif" font-weight="bold" font-size="20" fill="#fff">火</text>
<text x="1020.25" y="508.02" text-anchor="middle" font-family="Liberation Sans, sans-serif" font-weight="bold" font-size="20" fill="#fff">火</text>
<text x="1060.75" y="543.68" text-anchor="middle" font-family="Liberation Sans, sans-serif" font-weight="bold" font-size="20" fill="#fff">土</text>
<text x="939.12" y="579.33" text-anchor="middle" font-family="Liberation Sans, sans-serif" font-weight="bold" font-size="20" fill="#fff">木</text>
<text x="1020.25" y="614.98" text-anchor="middle" font-family="Liberation Sans, sans-serif" font-weight="bold" font-size="20" fill="#fff">火</text>
<text x="939.12" y="650.62" text-anchor="middle" font-family="Liberation Sans, sans-serif" font-weight="bold" font-size="20" fill="#fff">木</text>
<text x="1020.25" y="686.28" text-anchor="middle" font-family="Liberation Sans, sans-serif" font-weight="bold" font-size="20" fill="#fff">火</text>
<text x="1020.25" y="721.93" text-anchor="middle" font-family="Liberation Sans, sans-serif" font-weight="bold" font-size="20" fill="#fff">火</text>
<text x="1060.75" y="757.58" text-anchor="middle" font-family="Liberation Sans, sans-serif" font-weight="bold" font-size="20" fill="#fff">土</text>
<text x="939.12" y="793.23" text-anchor="middle" font-family="Liberation Sans, sans-serif" font-weight="bold" font-size="20" fill="#fff">木</text>
<text x="1020.25" y="828.88" text-anchor="middle" font-family="Liberation Sans, sans-serif" font-weight="bold" font-size="20" fill="#fff">火</text>
<text x="898.25" y="864.53" text-anchor="middle" font-family="Liberation Sans, sans-serif" font-weight="bold" font-size="20" fill="#fff">金</text>
<text x="1020.25" y="900.18" text-anchor="middle" font-family="Liberation Sans, sans-serif" font-weight="bold" font-size="20" fill="#fff">火</text>
<text x="1060.75" y="935.83" text-anchor="middle" font-family="Liberation Sans, sans-serif" font-weight="bold" font-size="20" fill="#fff">土</text>
<text x="898.25" y="971.48" text-anchor="middle" font-family="Liberation Sans, sans-serif" font-weight="bold" font-size="20" fill="#fff">金</text>
<text x="939.12" y="1007.12" text-anchor="middle" font-family="Liberation Sans, sans-serif" font-weight="bold" font-size="20" fill="#fff">木</text>
<text x="1060.75" y="1042.78" text-anchor="middle" font-family="Liberation Sans, sans-serif" font-weight="bold" font-size="20" fill="#fff">土</text>
<text x="1020.25" y="1078.43" text-anchor="middle" font-family="Liberation Sans, sans-serif" font-weight="bold" font-size="20" fill="#fff">火</text>
<text x="898.25" y="1114.08" text-anchor="middle" font-family="Liberation Sans, sans-serif" font-weight="bold" font-size="20" fill="#fff">金</text>
<text x="979.75" y="1149.72" text-anchor="middle" font-family="Liberation Sans, sans-serif" font-weight="bold" font-size="20" fill="#fff">水</text>
<text x="1020.25" y="1185.38" text-anchor="middle" font-family="Liberation Sans, sans-serif" font-weight="bold" font-size="20" fill="#fff">火</text>
<text x="1020.25" y="1221.03" text-anchor="middle" font-family="Liberation Sans, sans-serif" font-weight="bold" font-size="20" fill="#fff">火</text>
<text x="898.25" y="1256.68" text-anchor="middle" font-family="Liberation Sans, sans-serif" font-weight="bold" font-size="20" fill="#fff">金</text>
<text x="1060.75" y="1292.33" text-anchor="middle" font-family="Liberation Sans, sans-serif" font-weight="bold" font-size="20" fill="#fff">土</text>
<text x="1020.25" y="1327.97" text-anchor="middle" font-family="Liberation Sans, sans-serif" font-weight="bold" font-size="20" fill="#fff">火</text>
<text x="939.12" y="1363.62" text-anchor="middle" font-family="Liberation Sans, sans-serif" font-weight="bold" font-size="20" fill="#fff">木</text>
<text x="1060.75" y="1399.28" text-anchor="middle" font-family="Liberation Sans, sans-serif" font-weight="bold" font-size="20" fill="#fff">土</text>
</svg>
<div class="a" style="left:0;top:1411.9px;width:1080px;height:35.09999999999991px;background:#fdfbea"></div>
<div class="a" style="left:0;top:1446.5px;width:1080px;height:1.5px;background:#ebe9df"></div>
<div class="a" style="left:8.25px;top:1410.9px;width:1.5px;height:36.09999999999991px;background:#ebe8e0"></div>
<div class="a" style="left:64.0px;top:1410.9px;width:1.5px;height:36.09999999999991px;background:#ebe8e0"></div>
<div class="a" style="left:119.75px;top:1410.9px;width:1.5px;height:36.09999999999991px;background:#ebe8e0"></div>
<div class="a" style="left:175.5px;top:1410.9px;width:1.5px;height:36.09999999999991px;background:#ebe8e0"></div>
<div class="a" style="left:231.25px;top:1410.9px;width:1.5px;height:36.09999999999991px;background:#ebe8e0"></div>
<div class="a" style="left:287.0px;top:1410.9px;width:1.5px;height:36.09999999999991px;background:#ebe8e0"></div>
<div class="a" style="left:342.75px;top:1410.9px;width:1.5px;height:36.09999999999991px;background:#ebe8e0"></div>
<div class="a" style="left:398.5px;top:1410.9px;width:1.5px;height:36.09999999999991px;background:#ebe8e0"></div>
<div class="a" style="left:464.25px;top:1410.9px;width:1.5px;height:36.09999999999991px;background:#ebe8e0"></div>
<div class="a" style="left:505.75px;top:1410.9px;width:1.5px;height:36.09999999999991px;background:#ebe8e0"></div>
<div class="a" style="left:547.25px;top:1410.9px;width:1.5px;height:36.09999999999991px;background:#ebe8e0"></div>
<div class="a" style="left:588.75px;top:1410.9px;width:1.5px;height:36.09999999999991px;background:#ebe8e0"></div>
<div class="a" style="left:630.25px;top:1410.9px;width:1.5px;height:36.09999999999991px;background:#ebe8e0"></div>
<div class="a" style="left:671.5px;top:1410.9px;width:1.5px;height:36.09999999999991px;background:#ebe8e0"></div>
<div class="a" style="left:712.75px;top:1410.9px;width:1.5px;height:36.09999999999991px;background:#ebe8e0"></div>
<div class="a" style="left:754.0px;top:1410.9px;width:1.5px;height:36.09999999999991px;background:#ebe8e0"></div>
<div class="a" style="left:795.0px;top:1410.9px;width:1.5px;height:36.09999999999991px;background:#ebe8e0"></div>
<div class="a" style="left:836.0px;top:1410.9px;width:1.5px;height:36.09999999999991px;background:#ebe8e0"></div>
<div class="a" style="left:877.0px;top:1410.9px;width:1.5px;height:36.09999999999991px;background:#ebe8e0"></div>
<div class="a" style="left:918.0px;top:1410.9px;width:1.5px;height:36.09999999999991px;background:#ebe8e0"></div>
<div class="a" style="left:958.75px;top:1410.9px;width:1.5px;height:36.09999999999991px;background:#ebe8e0"></div>
<div class="a" style="left:999.25px;top:1410.9px;width:1.5px;height:36.09999999999991px;background:#ebe8e0"></div>
<div class="a" style="left:1039.75px;top:1410.9px;width:1.5px;height:36.09999999999991px;background:#ebe8e0"></div>
<div class="a" style="left:0;top:1409.7px;width:1080px;height:2.4px;background:#b80d14"></div>
<div class="t" style="left:-45.25px;top:1416px;width:52.75px;height:27px;line-height:24px;border:2px solid #c8464c;border-radius:11px;background:#fff;font-size:20px;color:#a3a3a3">23</div>
<div class="t" style="left:10.5px;top:1416px;width:52.75px;height:27px;line-height:24px;border:2px solid #c8464c;border-radius:11px;background:#fff;font-size:20px;color:#a3a3a3">24</div>
<div class="t" style="left:66.25px;top:1416px;width:52.75px;height:27px;line-height:24px;border:2px solid #c8464c;border-radius:11px;background:#fff;font-size:20px;color:#a3a3a3">25</div>
<div class="t" style="left:122.0px;top:1416px;width:52.75px;height:27px;line-height:24px;border:2px solid #c8464c;border-radius:11px;background:#fff;font-size:20px;color:#a3a3a3">26</div>
<div class="t" style="left:177.75px;top:1416px;width:52.75px;height:27px;line-height:24px;border:2px solid #c8464c;border-radius:11px;background:#fff;font-size:20px;color:#a3a3a3">27</div>
<div class="t" style="left:233.5px;top:1416px;width:52.75px;height:27px;line-height:24px;border:2px solid #c8464c;border-radius:11px;background:#fff;font-size:20px;color:#a3a3a3">28</div>
<div class="t" style="left:289.25px;top:1416px;width:52.75px;height:27px;line-height:24px;border:2px solid #c8464c;border-radius:11px;background:#fff;font-size:20px;color:#a3a3a3">29</div>
<div class="t" style="left:345.0px;top:1416px;width:52.75px;height:27px;line-height:24px;border:2px solid #c8464c;border-radius:11px;background:#fff;font-size:20px;color:#a3a3a3">30</div>
<div class="t" style="left:405.125px;top:1416px;width:54px;height:27px;line-height:24px;border:2px solid #c8464c;border-radius:11px;background:#fff;font-size:20px;color:#a3a3a3">31-32</div>
<div class="t" style="left:467px;top:1414.5px;width:37.5px;height:25.5px;line-height:25.5px;border-radius:5px;background:#6b7b22;font-size:20px;color:#fff">奇</div>
<div class="t" style="left:508.5px;top:1414.5px;width:37.5px;height:25.5px;line-height:25.5px;border-radius:5px;background:#6b7b22;font-size:20px;color:#fff">偶</div>
<div class="t" style="left:550px;top:1414.5px;width:37.5px;height:26px;line-height:25.5px;border-radius:5px;background:#e2e2e2;box-shadow:0 1px 0 #d4d4d4;font-size:20px;color:#a5a5a5">质</div>
<div class="t" style="left:591.5px;top:1414.5px;width:37.5px;height:25.5px;line-height:25.5px;border-radius:5px;background:#6b7b22;font-size:20px;color:#fff">合</div>
<div class="t" style="left:633px;top:1414.5px;width:37.25px;height:25.5px;line-height:25.5px;border-radius:5px;background:#6b7b22;font-size:20px;color:#fff">0路</div>
<div class="t" style="left:674.25px;top:1414.5px;width:37.25px;height:25.5px;line-height:25.5px;border-radius:5px;background:#6b7b22;font-size:20px;color:#fff">1路</div>
<div class="t" style="left:715.5px;top:1414.5px;width:37.25px;height:26px;line-height:25.5px;border-radius:5px;background:#e2e2e2;box-shadow:0 1px 0 #d4d4d4;font-size:20px;color:#a5a5a5">2路</div>
<div class="t" style="left:756.75px;top:1414.5px;width:37.0px;height:26px;line-height:25.5px;border-radius:5px;background:#e2e2e2;box-shadow:0 1px 0 #d4d4d4;font-size:20px;color:#a5a5a5">升</div>
<div class="t" style="left:797.75px;top:1414.5px;width:37.0px;height:26px;line-height:25.5px;border-radius:5px;background:#e2e2e2;box-shadow:0 1px 0 #d4d4d4;font-size:20px;color:#a5a5a5">平</div>
<div class="t" style="left:838.75px;top:1414.5px;width:37.0px;height:25.5px;line-height:25.5px;border-radius:5px;background:#6b7b22;font-size:20px;color:#fff">降</div>
<div class="t" style="left:879.75px;top:1414.5px;width:37.0px;height:26px;line-height:25.5px;border-radius:5px;background:#e2e2e2;box-shadow:0 1px 0 #d4d4d4;font-size:20px;color:#a5a5a5">金</div>
<div class="t" style="left:920.75px;top:1414.5px;width:36.75px;height:25.5px;line-height:25.5px;border-radius:5px;background:#6b7b22;font-size:20px;color:#fff">木</div>
<div class="t" style="left:961.5px;top:1414.5px;width:36.5px;height:26px;line-height:25.5px;border-radius:5px;background:#e2e2e2;box-shadow:0 1px 0 #d4d4d4;font-size:20px;color:#a5a5a5">水</div>
<div class="t" style="left:1002px;top:1414.5px;width:36.5px;height:26px;line-height:25.5px;border-radius:5px;background:#e2e2e2;box-shadow:0 1px 0 #d4d4d4;font-size:20px;color:#a5a5a5">火</div>
<div class="t" style="left:1042.5px;top:1414.5px;width:36.5px;height:26px;line-height:25.5px;border-radius:5px;background:#e2e2e2;box-shadow:0 1px 0 #d4d4d4;font-size:20px;color:#a5a5a5">土</div>
<div class="a" style="left:463.5px;top:1409.4px;width:3px;height:37.59999999999991px;background:#e6e3e3"></div>
<div class="a" style="left:753.25px;top:1409.4px;width:3px;height:37.59999999999991px;background:#e6e3e3"></div>
<div class="a" style="left:546.5px;top:1409.4px;width:3px;height:37.59999999999991px;background:#e6e3e3"></div>
<div class="a" style="left:629.5px;top:1409.4px;width:3px;height:37.59999999999991px;background:#e6e3e3"></div>
<div class="a" style="left:876.25px;top:1409.4px;width:3px;height:37.59999999999991px;background:#e6e3e3"></div>
<div class="a" style="left:0;top:1496px;width:1080px;height:3px;background:#b00b12"></div>
<div class="a" style="left:1078px;top:1409.9px;width:2px;height:89.09999999999991px;background:#b00b12"></div>
</body></html>
